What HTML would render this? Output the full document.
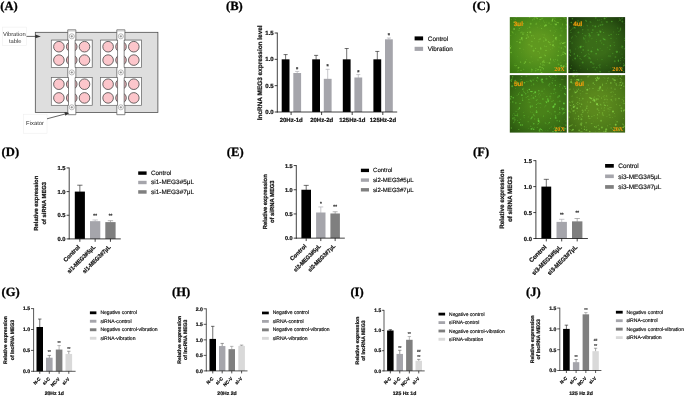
<!DOCTYPE html>
<html lang="en"><head><meta charset="utf-8"><title>Figure</title>
<style>
html,body{margin:0;padding:0;background:#fff;}
body{width:685px;height:397px;overflow:hidden;}
svg{display:block;filter:blur(0.3px);}
text{white-space:pre;}
</style></head><body>
<svg width="685" height="397" viewBox="0 0 685 397" text-rendering="geometricPrecision">
<rect x="0" y="0" width="685" height="397" fill="#ffffff"/>
<text x="0.3" y="10.2" font-family="'Liberation Serif', 'Times New Roman', serif" font-size="12.6" font-weight="bold" text-anchor="start" fill="#000" stroke="#000" stroke-width="0.28">(A)</text>
<rect x="35.30" y="32.30" width="122.60" height="80.10" fill="#dedede" stroke="#444" stroke-width="0.75"/>
<rect x="51.80" y="39.60" width="40.90" height="27.40" fill="#b5b5b5"/>
<rect x="51.30" y="40.10" width="40.90" height="27.40" fill="#ffffff" stroke="#666" stroke-width="0.7"/>
<circle cx="58.90" cy="46.70" r="5.3" fill="#fcc6cb" stroke="#444" stroke-width="0.8"/>
<circle cx="58.90" cy="60.10" r="5.3" fill="#fcc6cb" stroke="#444" stroke-width="0.8"/>
<circle cx="71.75" cy="46.70" r="5.3" fill="#e9b3b9" stroke="#444" stroke-width="0.8"/>
<circle cx="71.75" cy="60.10" r="5.3" fill="#e9b3b9" stroke="#444" stroke-width="0.8"/>
<circle cx="84.50" cy="46.70" r="5.3" fill="#fcc6cb" stroke="#444" stroke-width="0.8"/>
<circle cx="84.50" cy="60.10" r="5.3" fill="#fcc6cb" stroke="#444" stroke-width="0.8"/>
<rect x="101.00" y="39.60" width="41.00" height="27.40" fill="#b5b5b5"/>
<rect x="100.50" y="40.10" width="41.00" height="27.40" fill="#ffffff" stroke="#666" stroke-width="0.7"/>
<circle cx="108.10" cy="46.70" r="5.3" fill="#fcc6cb" stroke="#444" stroke-width="0.8"/>
<circle cx="108.10" cy="60.10" r="5.3" fill="#fcc6cb" stroke="#444" stroke-width="0.8"/>
<circle cx="121.00" cy="46.70" r="5.3" fill="#e9b3b9" stroke="#444" stroke-width="0.8"/>
<circle cx="121.00" cy="60.10" r="5.3" fill="#e9b3b9" stroke="#444" stroke-width="0.8"/>
<circle cx="133.80" cy="46.70" r="5.3" fill="#fcc6cb" stroke="#444" stroke-width="0.8"/>
<circle cx="133.80" cy="60.10" r="5.3" fill="#fcc6cb" stroke="#444" stroke-width="0.8"/>
<rect x="51.80" y="77.10" width="40.90" height="27.70" fill="#b5b5b5"/>
<rect x="51.30" y="77.60" width="40.90" height="27.70" fill="#ffffff" stroke="#666" stroke-width="0.7"/>
<circle cx="58.90" cy="84.20" r="5.3" fill="#fcc6cb" stroke="#444" stroke-width="0.8"/>
<circle cx="58.90" cy="97.90" r="5.3" fill="#fcc6cb" stroke="#444" stroke-width="0.8"/>
<circle cx="71.75" cy="84.20" r="5.3" fill="#e9b3b9" stroke="#444" stroke-width="0.8"/>
<circle cx="71.75" cy="97.90" r="5.3" fill="#e9b3b9" stroke="#444" stroke-width="0.8"/>
<circle cx="84.50" cy="84.20" r="5.3" fill="#fcc6cb" stroke="#444" stroke-width="0.8"/>
<circle cx="84.50" cy="97.90" r="5.3" fill="#fcc6cb" stroke="#444" stroke-width="0.8"/>
<rect x="101.00" y="77.10" width="41.00" height="27.70" fill="#b5b5b5"/>
<rect x="100.50" y="77.60" width="41.00" height="27.70" fill="#ffffff" stroke="#666" stroke-width="0.7"/>
<circle cx="108.10" cy="84.20" r="5.3" fill="#fcc6cb" stroke="#444" stroke-width="0.8"/>
<circle cx="108.10" cy="97.90" r="5.3" fill="#fcc6cb" stroke="#444" stroke-width="0.8"/>
<circle cx="121.00" cy="84.20" r="5.3" fill="#e9b3b9" stroke="#444" stroke-width="0.8"/>
<circle cx="121.00" cy="97.90" r="5.3" fill="#e9b3b9" stroke="#444" stroke-width="0.8"/>
<circle cx="133.80" cy="84.20" r="5.3" fill="#fcc6cb" stroke="#444" stroke-width="0.8"/>
<circle cx="133.80" cy="97.90" r="5.3" fill="#fcc6cb" stroke="#444" stroke-width="0.8"/>
<polygon points="67.75,29.80 75.85,29.80 75.85,40.10 75.10,40.10 75.10,67.50 75.85,67.50 75.85,77.60 75.10,77.60 75.10,105.30 75.85,105.30 75.85,114.70 67.75,114.70 67.75,105.30 68.50,105.30 68.50,77.60 67.75,77.60 67.75,67.50 68.50,67.50 68.50,40.10 67.75,40.10" fill="#ffffff" stroke="#555" stroke-width="0.7" stroke-linejoin="miter"/>
<line x1="67.75" y1="31.00" x2="75.85" y2="31.00" stroke="#999" stroke-width="0.5"/>
<circle cx="71.80" cy="36.3" r="2.55" fill="#fff" stroke="#777" stroke-width="0.5"/>
<line x1="70.50" y1="36.30" x2="73.10" y2="36.30" stroke="#555" stroke-width="0.5"/>
<line x1="71.80" y1="35.00" x2="71.80" y2="37.60" stroke="#555" stroke-width="0.5"/>
<circle cx="71.80" cy="72.4" r="2.55" fill="#fff" stroke="#777" stroke-width="0.5"/>
<line x1="70.50" y1="72.40" x2="73.10" y2="72.40" stroke="#555" stroke-width="0.5"/>
<line x1="71.80" y1="71.10" x2="71.80" y2="73.70" stroke="#555" stroke-width="0.5"/>
<circle cx="71.80" cy="107.3" r="2.55" fill="#fff" stroke="#777" stroke-width="0.5"/>
<line x1="70.50" y1="107.30" x2="73.10" y2="107.30" stroke="#555" stroke-width="0.5"/>
<line x1="71.80" y1="106.00" x2="71.80" y2="108.60" stroke="#555" stroke-width="0.5"/>
<polygon points="116.80,29.80 124.90,29.80 124.90,40.10 124.15,40.10 124.15,67.50 124.90,67.50 124.90,77.60 124.15,77.60 124.15,105.30 124.90,105.30 124.90,114.70 116.80,114.70 116.80,105.30 117.55,105.30 117.55,77.60 116.80,77.60 116.80,67.50 117.55,67.50 117.55,40.10 116.80,40.10" fill="#ffffff" stroke="#555" stroke-width="0.7" stroke-linejoin="miter"/>
<line x1="116.80" y1="31.00" x2="124.90" y2="31.00" stroke="#999" stroke-width="0.5"/>
<circle cx="120.85" cy="36.3" r="2.55" fill="#fff" stroke="#777" stroke-width="0.5"/>
<line x1="119.55" y1="36.30" x2="122.15" y2="36.30" stroke="#555" stroke-width="0.5"/>
<line x1="120.85" y1="35.00" x2="120.85" y2="37.60" stroke="#555" stroke-width="0.5"/>
<circle cx="120.85" cy="72.4" r="2.55" fill="#fff" stroke="#777" stroke-width="0.5"/>
<line x1="119.55" y1="72.40" x2="122.15" y2="72.40" stroke="#555" stroke-width="0.5"/>
<line x1="120.85" y1="71.10" x2="120.85" y2="73.70" stroke="#555" stroke-width="0.5"/>
<circle cx="120.85" cy="107.3" r="2.55" fill="#fff" stroke="#777" stroke-width="0.5"/>
<line x1="119.55" y1="107.30" x2="122.15" y2="107.30" stroke="#555" stroke-width="0.5"/>
<line x1="120.85" y1="106.00" x2="120.85" y2="108.60" stroke="#555" stroke-width="0.5"/>
<rect x="2.30" y="27.10" width="24.20" height="18.40" fill="#ffffff" stroke="#ececec" stroke-width="0.5"/>
<text x="14.3" y="35.7" font-family="'Liberation Sans', Arial, sans-serif" font-size="5.8" font-weight="normal" text-anchor="middle" fill="#333">Vibration</text>
<text x="15.2" y="42.5" font-family="'Liberation Sans', Arial, sans-serif" font-size="5.8" font-weight="normal" text-anchor="middle" fill="#333">table</text>
<line x1="26.50" y1="36.40" x2="36.50" y2="36.40" stroke="#333" stroke-width="0.75"/>
<polygon points="40.8,36.4 35.3,34.4 35.3,38.3" fill="#333"/>
<rect x="23.70" y="114.20" width="23.30" height="19.00" fill="#ffffff" stroke="#ececec" stroke-width="0.5"/>
<text x="26.1" y="125.4" font-family="'Liberation Sans', Arial, sans-serif" font-size="5.85" font-weight="normal" text-anchor="start" fill="#333">Fixator</text>
<line x1="47.00" y1="118.80" x2="65.50" y2="113.90" stroke="#333" stroke-width="0.75"/>
<polygon points="69.3,112.9 64.4,112.0 65.4,115.8" fill="#333"/>
<text x="226.0" y="10.2" font-family="'Liberation Serif', 'Times New Roman', serif" font-size="12.6" font-weight="bold" text-anchor="start" fill="#000" stroke="#000" stroke-width="0.28">(B)</text>
<line x1="285.60" y1="54.59" x2="285.60" y2="59.83" stroke="#111" stroke-width="0.6"/>
<line x1="283.57" y1="54.59" x2="287.63" y2="54.59" stroke="#111" stroke-width="0.6"/>
<rect x="281.70" y="59.33" width="7.80" height="52.67" fill="#000000"/>
<line x1="297.20" y1="71.44" x2="297.20" y2="73.52" stroke="#a5a5ab" stroke-width="0.6"/>
<line x1="295.17" y1="71.44" x2="299.23" y2="71.44" stroke="#a5a5ab" stroke-width="0.6"/>
<rect x="293.30" y="73.02" width="7.80" height="38.98" fill="#a5a5ab"/>
<line x1="316.10" y1="55.38" x2="316.10" y2="59.83" stroke="#111" stroke-width="0.6"/>
<line x1="314.07" y1="55.38" x2="318.13" y2="55.38" stroke="#111" stroke-width="0.6"/>
<rect x="312.20" y="59.33" width="7.80" height="52.67" fill="#000000"/>
<line x1="327.70" y1="69.34" x2="327.70" y2="79.32" stroke="#a5a5ab" stroke-width="0.6"/>
<line x1="325.67" y1="69.34" x2="329.73" y2="69.34" stroke="#a5a5ab" stroke-width="0.6"/>
<rect x="323.80" y="78.82" width="7.80" height="33.18" fill="#a5a5ab"/>
<line x1="346.70" y1="48.53" x2="346.70" y2="59.83" stroke="#111" stroke-width="0.6"/>
<line x1="344.67" y1="48.53" x2="348.73" y2="48.53" stroke="#111" stroke-width="0.6"/>
<rect x="342.80" y="59.33" width="7.80" height="52.67" fill="#000000"/>
<line x1="358.30" y1="74.60" x2="358.30" y2="78.00" stroke="#a5a5ab" stroke-width="0.6"/>
<line x1="356.27" y1="74.60" x2="360.33" y2="74.60" stroke="#a5a5ab" stroke-width="0.6"/>
<rect x="354.40" y="77.50" width="7.80" height="34.50" fill="#a5a5ab"/>
<line x1="377.30" y1="51.43" x2="377.30" y2="59.83" stroke="#111" stroke-width="0.6"/>
<line x1="375.27" y1="51.43" x2="379.33" y2="51.43" stroke="#111" stroke-width="0.6"/>
<rect x="373.40" y="59.33" width="7.80" height="52.67" fill="#000000"/>
<line x1="388.90" y1="38.00" x2="388.90" y2="39.82" stroke="#a5a5ab" stroke-width="0.6"/>
<line x1="386.87" y1="38.00" x2="390.93" y2="38.00" stroke="#a5a5ab" stroke-width="0.6"/>
<rect x="385.00" y="39.32" width="7.80" height="72.68" fill="#a5a5ab"/>
<line x1="277.30" y1="32.60" x2="277.30" y2="112.40" stroke="#111" stroke-width="0.8"/>
<line x1="276.90" y1="112.00" x2="397.20" y2="112.00" stroke="#111" stroke-width="0.8"/>
<line x1="274.70" y1="33.00" x2="277.30" y2="33.00" stroke="#111" stroke-width="0.8"/>
<text x="273.7" y="35.16" font-family="'Liberation Sans', Arial, sans-serif" font-size="6.0" font-weight="bold" text-anchor="end" fill="#111" stroke="#111" stroke-width="0.22">1.5</text>
<line x1="274.70" y1="59.33" x2="277.30" y2="59.33" stroke="#111" stroke-width="0.8"/>
<text x="273.7" y="61.49" font-family="'Liberation Sans', Arial, sans-serif" font-size="6.0" font-weight="bold" text-anchor="end" fill="#111" stroke="#111" stroke-width="0.22">1.0</text>
<line x1="274.70" y1="85.66" x2="277.30" y2="85.66" stroke="#111" stroke-width="0.8"/>
<text x="273.7" y="87.82" font-family="'Liberation Sans', Arial, sans-serif" font-size="6.0" font-weight="bold" text-anchor="end" fill="#111" stroke="#111" stroke-width="0.22">0.5</text>
<line x1="274.70" y1="112.00" x2="277.30" y2="112.00" stroke="#111" stroke-width="0.8"/>
<text x="273.7" y="114.16" font-family="'Liberation Sans', Arial, sans-serif" font-size="6.0" font-weight="bold" text-anchor="end" fill="#111" stroke="#111" stroke-width="0.22">0.0</text>
<line x1="291.10" y1="112.00" x2="291.10" y2="115.00" stroke="#111" stroke-width="0.8"/>
<line x1="321.60" y1="112.00" x2="321.60" y2="115.00" stroke="#111" stroke-width="0.8"/>
<line x1="352.20" y1="112.00" x2="352.20" y2="115.00" stroke="#111" stroke-width="0.8"/>
<line x1="382.80" y1="112.00" x2="382.80" y2="115.00" stroke="#111" stroke-width="0.8"/>
<text x="291.2" y="121.7" font-family="'Liberation Sans', Arial, sans-serif" font-size="6.0" font-weight="bold" text-anchor="middle" fill="#111" stroke="#111" stroke-width="0.22">20Hz-1d</text>
<text x="321.7" y="121.7" font-family="'Liberation Sans', Arial, sans-serif" font-size="6.0" font-weight="bold" text-anchor="middle" fill="#111" stroke="#111" stroke-width="0.22">20Hz-2d</text>
<text x="352.3" y="121.7" font-family="'Liberation Sans', Arial, sans-serif" font-size="6.0" font-weight="bold" text-anchor="middle" fill="#111" stroke="#111" stroke-width="0.22">125Hz-1d</text>
<text x="382.9" y="121.7" font-family="'Liberation Sans', Arial, sans-serif" font-size="6.0" font-weight="bold" text-anchor="middle" fill="#111" stroke="#111" stroke-width="0.22">125Hz-2d</text>
<text x="297.2" y="70.74" font-family="'Liberation Sans', Arial, sans-serif" font-size="5.6" font-weight="bold" text-anchor="middle" fill="#333" stroke="#333" stroke-width="0.22">*</text>
<text x="327.7" y="68.44" font-family="'Liberation Sans', Arial, sans-serif" font-size="5.6" font-weight="bold" text-anchor="middle" fill="#333" stroke="#333" stroke-width="0.22">*</text>
<text x="358.3" y="73.74" font-family="'Liberation Sans', Arial, sans-serif" font-size="5.6" font-weight="bold" text-anchor="middle" fill="#333" stroke="#333" stroke-width="0.22">*</text>
<text x="388.9" y="36.64" font-family="'Liberation Sans', Arial, sans-serif" font-size="5.6" font-weight="bold" text-anchor="middle" fill="#333" stroke="#333" stroke-width="0.22">*</text>
<text x="261.6" y="72.8" font-family="'Liberation Sans', Arial, sans-serif" font-size="6.45" font-weight="bold" text-anchor="middle" fill="#111" transform="rotate(-90 261.6 72.8)" stroke="#111" stroke-width="0.22">lncRNA MEG3 expression level</text>
<rect x="414.60" y="36.40" width="8.50" height="4.00" fill="#000000"/>
<text x="427.8" y="40.6" font-family="'Liberation Sans', Arial, sans-serif" font-size="6.35" font-weight="normal" text-anchor="start" fill="#111" stroke="#111" stroke-width="0.16">Control</text>
<rect x="414.60" y="46.80" width="8.50" height="4.10" fill="#a5a5ab"/>
<text x="427.8" y="51.2" font-family="'Liberation Sans', Arial, sans-serif" font-size="6.35" font-weight="normal" text-anchor="start" fill="#111" stroke="#111" stroke-width="0.16">Vibration</text>
<text x="472.6" y="10.2" font-family="'Liberation Serif', 'Times New Roman', serif" font-size="12.6" font-weight="bold" text-anchor="start" fill="#000" stroke="#000" stroke-width="0.28">(C)</text>
<defs>
<radialGradient id="gc0" cx="52%" cy="50%" r="74%"><stop offset="0" stop-color="#5f981f"/><stop offset="0.25" stop-color="#5f981f"/><stop offset="0.62" stop-color="#4b8a1a"/><stop offset="1" stop-color="#36700f"/></radialGradient>
<clipPath id="cc0"><rect x="509.8" y="17.1" width="57.00" height="56.00"/></clipPath>
<radialGradient id="gc1" cx="52%" cy="50%" r="72%"><stop offset="0" stop-color="#3a6c18"/><stop offset="0.25" stop-color="#3a6c18"/><stop offset="0.62" stop-color="#2a5412"/><stop offset="1" stop-color="#152d08"/></radialGradient>
<clipPath id="cc1"><rect x="568.3" y="17.1" width="56.80" height="56.00"/></clipPath>
<radialGradient id="gc2" cx="52%" cy="50%" r="74%"><stop offset="0" stop-color="#498119"/><stop offset="0.25" stop-color="#498119"/><stop offset="0.62" stop-color="#3a7015"/><stop offset="1" stop-color="#264e0d"/></radialGradient>
<clipPath id="cc2"><rect x="509.8" y="75.1" width="57.00" height="57.50"/></clipPath>
<radialGradient id="gc3" cx="52%" cy="50%" r="74%"><stop offset="0" stop-color="#5b881d"/><stop offset="0.25" stop-color="#5b881d"/><stop offset="0.62" stop-color="#4d7a19"/><stop offset="1" stop-color="#385e11"/></radialGradient>
<clipPath id="cc3"><rect x="568.3" y="75.1" width="56.80" height="57.50"/></clipPath>
<filter id="blur1" x="-5%" y="-5%" width="110%" height="110%"><feGaussianBlur stdDeviation="0.45"/></filter>
</defs>
<rect x="509.80" y="17.10" width="57.00" height="56.00" fill="url(#gc0)"/>
<g clip-path="url(#cc0)" filter="url(#blur1)" fill="#86d440">
<circle cx="535.6" cy="48.4" r="0.6" opacity="0.50"/>
<circle cx="520.6" cy="62.1" r="0.6" opacity="0.60"/>
<circle cx="515.2" cy="34.1" r="0.35" opacity="0.55"/>
<circle cx="546.0" cy="50.4" r="0.6" opacity="0.78"/>
<ellipse cx="544.9" cy="25.9" rx="0.43" ry="0.24" opacity="0.71" transform="rotate(61 544.9 25.9)"/>
<circle cx="544.0" cy="60.7" r="0.5" opacity="0.49"/>
<ellipse cx="539.4" cy="53.0" rx="1.03" ry="0.42" opacity="0.25" transform="rotate(104 539.4 53.0)"/>
<circle cx="566.7" cy="72.9" r="0.35" opacity="0.64"/>
<ellipse cx="522.9" cy="33.3" rx="0.45" ry="0.24" opacity="0.56" transform="rotate(74 522.9 33.3)"/>
<ellipse cx="531.8" cy="70.8" rx="1.83" ry="0.66" opacity="0.25" transform="rotate(120 531.8 70.8)"/>
<circle cx="531.2" cy="56.8" r="0.6" opacity="0.29"/>
<ellipse cx="554.2" cy="32.2" rx="0.53" ry="0.24" opacity="0.42" transform="rotate(30 554.2 32.2)"/>
<circle cx="517.5" cy="56.7" r="0.35" opacity="0.28"/>
<circle cx="519.9" cy="48.4" r="0.6" opacity="0.53"/>
<circle cx="553.7" cy="40.6" r="0.6" opacity="0.31"/>
<circle cx="521.9" cy="32.2" r="0.75" opacity="0.42"/>
<ellipse cx="521.8" cy="39.2" rx="1.49" ry="0.52" opacity="0.60" transform="rotate(54 521.8 39.2)"/>
<circle cx="535.0" cy="17.6" r="0.75" opacity="0.43"/>
<ellipse cx="514.0" cy="22.1" rx="1.12" ry="0.52" opacity="0.60" transform="rotate(159 514.0 22.1)"/>
<ellipse cx="535.6" cy="70.8" rx="0.91" ry="0.42" opacity="0.71" transform="rotate(160 535.6 70.8)"/>
<ellipse cx="518.6" cy="68.0" rx="1.34" ry="0.52" opacity="0.39" transform="rotate(141 518.6 68.0)"/>
<circle cx="521.0" cy="70.3" r="0.6" opacity="0.58"/>
<circle cx="515.7" cy="19.3" r="0.5" opacity="0.38"/>
<circle cx="524.4" cy="63.2" r="0.75" opacity="0.52"/>
<circle cx="562.8" cy="71.8" r="0.45" opacity="0.38"/>
<circle cx="558.4" cy="51.5" r="0.5" opacity="0.37"/>
<ellipse cx="552.5" cy="21.0" rx="0.80" ry="0.42" opacity="0.50" transform="rotate(94 552.5 21.0)"/>
<circle cx="540.1" cy="71.6" r="0.35" opacity="0.45"/>
<circle cx="565.7" cy="53.9" r="0.95" opacity="0.54"/>
<circle cx="543.4" cy="68.8" r="0.6" opacity="0.75"/>
<ellipse cx="564.7" cy="18.3" rx="1.38" ry="0.66" opacity="0.29" transform="rotate(34 564.7 18.3)"/>
<ellipse cx="566.8" cy="21.3" rx="1.46" ry="0.52" opacity="0.45" transform="rotate(33 566.8 21.3)"/>
<circle cx="555.0" cy="68.3" r="0.5" opacity="0.30"/>
<circle cx="514.2" cy="65.1" r="0.35" opacity="0.72"/>
<ellipse cx="545.4" cy="38.5" rx="0.95" ry="0.52" opacity="0.26" transform="rotate(29 545.4 38.5)"/>
<circle cx="566.4" cy="66.4" r="0.95" opacity="0.43"/>
<ellipse cx="549.4" cy="42.7" rx="1.08" ry="0.42" opacity="0.71" transform="rotate(7 549.4 42.7)"/>
<circle cx="527.5" cy="22.0" r="0.35" opacity="0.38"/>
<ellipse cx="538.1" cy="51.5" rx="0.86" ry="0.42" opacity="0.39" transform="rotate(173 538.1 51.5)"/>
<circle cx="544.7" cy="46.1" r="0.5" opacity="0.61"/>
<circle cx="560.6" cy="35.4" r="0.95" opacity="0.39"/>
<circle cx="555.6" cy="59.4" r="0.45" opacity="0.73"/>
<circle cx="543.0" cy="34.8" r="0.45" opacity="0.32"/>
<circle cx="560.9" cy="19.4" r="0.35" opacity="0.77"/>
<circle cx="519.4" cy="42.3" r="0.5" opacity="0.76"/>
<circle cx="531.6" cy="46.2" r="0.95" opacity="0.42"/>
<circle cx="565.8" cy="42.4" r="0.35" opacity="0.71"/>
<circle cx="544.4" cy="55.1" r="0.5" opacity="0.56"/>
<ellipse cx="554.9" cy="18.2" rx="0.82" ry="0.32" opacity="0.47" transform="rotate(68 554.9 18.2)"/>
<ellipse cx="523.3" cy="25.0" rx="0.45" ry="0.24" opacity="0.79" transform="rotate(137 523.3 25.0)"/>
<ellipse cx="547.1" cy="62.3" rx="0.55" ry="0.24" opacity="0.63" transform="rotate(45 547.1 62.3)"/>
<ellipse cx="550.5" cy="59.4" rx="1.06" ry="0.52" opacity="0.64" transform="rotate(88 550.5 59.4)"/>
<circle cx="540.6" cy="70.1" r="0.75" opacity="0.59"/>
<circle cx="532.2" cy="61.4" r="0.45" opacity="0.30"/>
<circle cx="551.0" cy="24.4" r="0.6" opacity="0.36"/>
<circle cx="510.2" cy="47.9" r="0.95" opacity="0.73"/>
<ellipse cx="563.6" cy="43.1" rx="1.80" ry="0.66" opacity="0.79" transform="rotate(164 563.6 43.1)"/>
<circle cx="562.5" cy="24.0" r="0.45" opacity="0.74"/>
<circle cx="565.5" cy="47.2" r="0.5" opacity="0.39"/>
<circle cx="510.7" cy="45.4" r="0.35" opacity="0.49"/>
<circle cx="553.6" cy="44.4" r="0.35" opacity="0.37"/>
<circle cx="534.2" cy="19.1" r="0.75" opacity="0.43"/>
<circle cx="517.8" cy="25.4" r="0.75" opacity="0.75"/>
<circle cx="548.4" cy="41.7" r="0.6" opacity="0.57"/>
<circle cx="553.0" cy="41.7" r="0.75" opacity="0.41"/>
<circle cx="546.2" cy="46.4" r="0.75" opacity="0.39"/>
<circle cx="564.2" cy="65.8" r="0.75" opacity="0.36"/>
<circle cx="565.0" cy="46.5" r="0.75" opacity="0.52"/>
<circle cx="516.3" cy="17.4" r="0.6" opacity="0.27"/>
<ellipse cx="539.2" cy="39.5" rx="1.00" ry="0.52" opacity="0.32" transform="rotate(137 539.2 39.5)"/>
<circle cx="536.0" cy="68.7" r="0.6" opacity="0.40"/>
<ellipse cx="517.0" cy="41.4" rx="0.92" ry="0.42" opacity="0.54" transform="rotate(7 517.0 41.4)"/>
<ellipse cx="562.5" cy="24.3" rx="0.42" ry="0.24" opacity="0.27" transform="rotate(72 562.5 24.3)"/>
<circle cx="528.2" cy="37.0" r="0.75" opacity="0.52"/>
<ellipse cx="543.0" cy="64.8" rx="1.22" ry="0.52" opacity="0.39" transform="rotate(111 543.0 64.8)"/>
<circle cx="511.1" cy="52.5" r="0.75" opacity="0.59"/>
<circle cx="559.0" cy="47.0" r="0.45" opacity="0.54"/>
<circle cx="544.7" cy="65.1" r="0.45" opacity="0.75"/>
<circle cx="529.6" cy="27.2" r="0.75" opacity="0.42"/>
<ellipse cx="522.2" cy="73.0" rx="0.62" ry="0.24" opacity="0.32" transform="rotate(66 522.2 73.0)"/>
<circle cx="531.9" cy="41.4" r="0.6" opacity="0.55"/>
<circle cx="521.2" cy="52.3" r="0.35" opacity="0.30"/>
<circle cx="530.2" cy="63.1" r="0.5" opacity="0.31"/>
<circle cx="553.0" cy="45.3" r="0.95" opacity="0.71"/>
<circle cx="537.3" cy="18.5" r="0.75" opacity="0.59"/>
<circle cx="537.2" cy="27.7" r="0.35" opacity="0.36"/>
<ellipse cx="566.2" cy="69.0" rx="0.61" ry="0.24" opacity="0.57" transform="rotate(19 566.2 69.0)"/>
<circle cx="553.4" cy="35.4" r="0.6" opacity="0.48"/>
<circle cx="521.8" cy="38.0" r="0.95" opacity="0.64"/>
<circle cx="520.1" cy="42.5" r="0.95" opacity="0.45"/>
<ellipse cx="544.3" cy="22.4" rx="0.66" ry="0.24" opacity="0.43" transform="rotate(161 544.3 22.4)"/>
<circle cx="563.4" cy="49.0" r="0.45" opacity="0.53"/>
<circle cx="555.7" cy="31.6" r="0.35" opacity="0.66"/>
<circle cx="556.2" cy="39.8" r="0.5" opacity="0.73"/>
<ellipse cx="553.5" cy="60.0" rx="1.10" ry="0.42" opacity="0.36" transform="rotate(77 553.5 60.0)"/>
<circle cx="536.5" cy="17.7" r="0.5" opacity="0.79"/>
<ellipse cx="512.6" cy="32.4" rx="1.45" ry="0.66" opacity="0.41" transform="rotate(46 512.6 32.4)"/>
<circle cx="540.2" cy="38.9" r="0.6" opacity="0.60"/>
<ellipse cx="553.2" cy="72.0" rx="0.49" ry="0.24" opacity="0.31" transform="rotate(113 553.2 72.0)"/>
<ellipse cx="532.7" cy="19.9" rx="0.63" ry="0.32" opacity="0.61" transform="rotate(70 532.7 19.9)"/>
<circle cx="561.4" cy="47.9" r="0.75" opacity="0.48"/>
<ellipse cx="558.0" cy="22.7" rx="1.01" ry="0.42" opacity="0.70" transform="rotate(11 558.0 22.7)"/>
<ellipse cx="531.8" cy="69.7" rx="0.96" ry="0.42" opacity="0.51" transform="rotate(156 531.8 69.7)"/>
<circle cx="543.8" cy="41.2" r="0.6" opacity="0.48"/>
<circle cx="543.9" cy="37.6" r="0.5" opacity="0.52"/>
<ellipse cx="562.8" cy="54.3" rx="1.33" ry="0.66" opacity="0.41" transform="rotate(10 562.8 54.3)"/>
<circle cx="545.9" cy="40.0" r="0.95" opacity="0.46"/>
<ellipse cx="552.5" cy="19.9" rx="1.83" ry="0.66" opacity="0.77" transform="rotate(109 552.5 19.9)"/>
<ellipse cx="550.8" cy="31.2" rx="0.83" ry="0.32" opacity="0.27" transform="rotate(119 550.8 31.2)"/>
<ellipse cx="518.0" cy="70.9" rx="0.76" ry="0.32" opacity="0.58" transform="rotate(116 518.0 70.9)"/>
<ellipse cx="516.5" cy="65.3" rx="0.78" ry="0.35" opacity="0.54" transform="rotate(170 516.5 65.3)"/>
<circle cx="533.6" cy="50.8" r="0.95" opacity="0.57"/>
<circle cx="554.1" cy="46.8" r="0.45" opacity="0.77"/>
<circle cx="523.4" cy="23.5" r="0.5" opacity="0.68"/>
<circle cx="530.3" cy="32.3" r="0.95" opacity="0.65"/>
<ellipse cx="520.6" cy="32.7" rx="0.89" ry="0.32" opacity="0.35" transform="rotate(50 520.6 32.7)"/>
<circle cx="559.9" cy="19.3" r="0.35" opacity="0.26"/>
<ellipse cx="511.3" cy="19.2" rx="0.57" ry="0.32" opacity="0.55" transform="rotate(173 511.3 19.2)"/>
<circle cx="519.0" cy="30.2" r="0.5" opacity="0.52"/>
<ellipse cx="529.1" cy="44.8" rx="0.58" ry="0.32" opacity="0.71" transform="rotate(159 529.1 44.8)"/>
<circle cx="557.6" cy="60.2" r="0.6" opacity="0.48"/>
<circle cx="556.0" cy="37.8" r="0.95" opacity="0.71"/>
<circle cx="526.4" cy="59.6" r="0.45" opacity="0.49"/>
<circle cx="515.3" cy="66.1" r="0.35" opacity="0.55"/>
<circle cx="542.2" cy="62.8" r="0.6" opacity="0.41"/>
<circle cx="514.1" cy="29.0" r="0.95" opacity="0.58"/>
<ellipse cx="538.0" cy="59.9" rx="0.74" ry="0.35" opacity="0.41" transform="rotate(83 538.0 59.9)"/>
<circle cx="530.7" cy="23.7" r="0.95" opacity="0.49"/>
<circle cx="561.2" cy="55.6" r="0.5" opacity="0.49"/>
<circle cx="527.2" cy="34.9" r="0.6" opacity="0.78"/>
<circle cx="539.2" cy="21.8" r="0.5" opacity="0.26"/>
<circle cx="543.1" cy="61.7" r="0.95" opacity="0.56"/>
<ellipse cx="540.6" cy="63.9" rx="1.17" ry="0.52" opacity="0.35" transform="rotate(72 540.6 63.9)"/>
<circle cx="556.1" cy="29.5" r="0.35" opacity="0.55"/>
<circle cx="564.9" cy="53.6" r="0.6" opacity="0.29"/>
<ellipse cx="554.7" cy="21.8" rx="0.51" ry="0.24" opacity="0.40" transform="rotate(6 554.7 21.8)"/>
<circle cx="545.9" cy="25.2" r="0.95" opacity="0.70"/>
<circle cx="550.4" cy="44.5" r="0.75" opacity="0.44"/>
<circle cx="529.8" cy="62.3" r="0.5" opacity="0.62"/>
<ellipse cx="540.4" cy="57.5" rx="1.72" ry="0.66" opacity="0.59" transform="rotate(170 540.4 57.5)"/>
<circle cx="529.7" cy="17.3" r="0.6" opacity="0.71"/>
<ellipse cx="564.4" cy="53.0" rx="0.97" ry="0.52" opacity="0.45" transform="rotate(107 564.4 53.0)"/>
<circle cx="562.0" cy="30.9" r="0.45" opacity="0.80"/>
<circle cx="519.4" cy="28.5" r="0.6" opacity="0.54"/>
<circle cx="560.3" cy="43.5" r="0.95" opacity="0.31"/>
<ellipse cx="554.0" cy="27.1" rx="0.55" ry="0.24" opacity="0.66" transform="rotate(9 554.0 27.1)"/>
<ellipse cx="527.6" cy="28.2" rx="0.89" ry="0.35" opacity="0.37" transform="rotate(152 527.6 28.2)"/>
<circle cx="538.8" cy="41.8" r="0.5" opacity="0.47"/>
<circle cx="563.2" cy="52.2" r="0.75" opacity="0.51"/>
<circle cx="560.4" cy="68.3" r="0.5" opacity="0.61"/>
<circle cx="515.1" cy="65.4" r="0.6" opacity="0.28"/>
<circle cx="555.5" cy="38.7" r="0.75" opacity="0.69"/>
<circle cx="554.7" cy="20.3" r="0.45" opacity="0.74"/>
<circle cx="561.4" cy="42.3" r="0.45" opacity="0.64"/>
<circle cx="518.8" cy="25.9" r="0.5" opacity="0.33"/>
<circle cx="556.0" cy="24.4" r="0.95" opacity="0.80"/>
<circle cx="540.3" cy="25.5" r="0.45" opacity="0.25"/>
<circle cx="558.0" cy="63.1" r="0.35" opacity="0.44"/>
<circle cx="539.9" cy="66.9" r="0.95" opacity="0.51"/>
<ellipse cx="543.2" cy="65.1" rx="0.68" ry="0.35" opacity="0.26" transform="rotate(174 543.2 65.1)"/>
<circle cx="515.0" cy="63.4" r="0.45" opacity="0.27"/>
<circle cx="538.0" cy="70.1" r="0.5" opacity="0.42"/>
<circle cx="541.5" cy="72.9" r="0.95" opacity="0.64"/>
<circle cx="549.0" cy="23.0" r="0.6" opacity="0.62"/>
<circle cx="554.5" cy="23.9" r="0.6" opacity="0.26"/>
<circle cx="550.3" cy="30.4" r="0.75" opacity="0.31"/>
<circle cx="558.6" cy="64.4" r="0.95" opacity="0.36"/>
<circle cx="526.4" cy="38.2" r="0.75" opacity="0.66"/>
<ellipse cx="552.8" cy="48.2" rx="0.62" ry="0.24" opacity="0.39" transform="rotate(84 552.8 48.2)"/>
<circle cx="527.5" cy="32.4" r="0.6" opacity="0.65"/>
<ellipse cx="556.9" cy="22.3" rx="0.77" ry="0.32" opacity="0.59" transform="rotate(45 556.9 22.3)"/>
<ellipse cx="520.1" cy="39.6" rx="0.83" ry="0.42" opacity="0.58" transform="rotate(40 520.1 39.6)"/>
<circle cx="566.1" cy="41.4" r="0.35" opacity="0.44"/>
<circle cx="562.6" cy="24.9" r="0.45" opacity="0.67"/>
<circle cx="531.8" cy="35.7" r="0.6" opacity="0.59"/>
<circle cx="544.7" cy="34.9" r="0.45" opacity="0.61"/>
<circle cx="510.9" cy="35.6" r="0.5" opacity="0.42"/>
<circle cx="541.6" cy="28.6" r="0.5" opacity="0.68"/>
<circle cx="544.7" cy="26.0" r="0.75" opacity="0.75"/>
<ellipse cx="529.9" cy="45.1" rx="0.88" ry="0.32" opacity="0.57" transform="rotate(50 529.9 45.1)"/>
<ellipse cx="542.1" cy="18.6" rx="1.33" ry="0.66" opacity="0.36" transform="rotate(147 542.1 18.6)"/>
<circle cx="533.6" cy="35.8" r="0.35" opacity="0.76"/>
<circle cx="536.2" cy="24.0" r="0.95" opacity="0.32"/>
<ellipse cx="540.8" cy="48.5" rx="1.35" ry="0.52" opacity="0.75" transform="rotate(85 540.8 48.5)"/>
<circle cx="544.1" cy="24.0" r="0.35" opacity="0.41"/>
<circle cx="523.5" cy="49.2" r="0.45" opacity="0.35"/>
<circle cx="514.1" cy="18.9" r="0.45" opacity="0.68"/>
<circle cx="566.7" cy="24.8" r="0.95" opacity="0.72"/>
<circle cx="544.9" cy="53.0" r="0.35" opacity="0.34"/>
<ellipse cx="511.7" cy="46.7" rx="0.57" ry="0.24" opacity="0.56" transform="rotate(67 511.7 46.7)"/>
<ellipse cx="523.7" cy="69.3" rx="0.61" ry="0.24" opacity="0.60" transform="rotate(37 523.7 69.3)"/>
<circle cx="532.8" cy="45.0" r="0.35" opacity="0.51"/>
<circle cx="545.4" cy="55.7" r="0.6" opacity="0.66"/>
<circle cx="566.5" cy="64.0" r="0.95" opacity="0.47"/>
<circle cx="542.1" cy="67.8" r="0.75" opacity="0.43"/>
<circle cx="533.8" cy="18.5" r="0.35" opacity="0.41"/>
<circle cx="534.5" cy="38.2" r="0.5" opacity="0.66"/>
<ellipse cx="543.6" cy="21.0" rx="0.66" ry="0.24" opacity="0.71" transform="rotate(13 543.6 21.0)"/>
<circle cx="536.9" cy="23.0" r="0.45" opacity="0.55"/>
<circle cx="563.4" cy="66.4" r="0.95" opacity="0.78"/>
<circle cx="559.2" cy="40.7" r="0.45" opacity="0.37"/>
<ellipse cx="542.1" cy="67.7" rx="0.67" ry="0.24" opacity="0.54" transform="rotate(147 542.1 67.7)"/>
<ellipse cx="564.0" cy="17.1" rx="0.60" ry="0.32" opacity="0.65" transform="rotate(112 564.0 17.1)"/>
<circle cx="560.8" cy="62.8" r="0.6" opacity="0.33"/>
<circle cx="523.0" cy="34.2" r="0.6" opacity="0.74"/>
<ellipse cx="538.2" cy="69.4" rx="1.13" ry="0.42" opacity="0.73" transform="rotate(177 538.2 69.4)"/>
<ellipse cx="560.9" cy="28.0" rx="0.85" ry="0.35" opacity="0.74" transform="rotate(178 560.9 28.0)"/>
<circle cx="566.5" cy="28.4" r="0.95" opacity="0.38"/>
<circle cx="565.4" cy="53.5" r="0.5" opacity="0.65"/>
<circle cx="561.1" cy="65.8" r="0.95" opacity="0.73"/>
<ellipse cx="564.3" cy="60.7" rx="0.87" ry="0.42" opacity="0.29" transform="rotate(176 564.3 60.7)"/>
<circle cx="521.0" cy="27.2" r="0.45" opacity="0.53"/>
<circle cx="525.4" cy="62.1" r="0.75" opacity="0.74"/>
<circle cx="522.9" cy="34.0" r="0.45" opacity="0.62"/>
<circle cx="546.3" cy="22.1" r="0.35" opacity="0.49"/>
<circle cx="540.1" cy="19.6" r="0.75" opacity="0.57"/>
<circle cx="533.9" cy="48.9" r="0.45" opacity="0.41"/>
<circle cx="523.8" cy="32.7" r="0.75" opacity="0.27"/>
<circle cx="518.4" cy="67.4" r="0.75" opacity="0.50"/>
<ellipse cx="531.7" cy="69.1" rx="1.09" ry="0.42" opacity="0.28" transform="rotate(92 531.7 69.1)"/>
<circle cx="528.1" cy="44.2" r="0.35" opacity="0.53"/>
<circle cx="558.0" cy="55.4" r="0.75" opacity="0.66"/>
<ellipse cx="543.7" cy="60.3" rx="0.54" ry="0.24" opacity="0.58" transform="rotate(65 543.7 60.3)"/>
<circle cx="554.6" cy="61.4" r="0.45" opacity="0.39"/>
<circle cx="558.4" cy="50.9" r="0.5" opacity="0.27"/>
<circle cx="550.5" cy="49.2" r="0.45" opacity="0.43"/>
<circle cx="544.5" cy="62.2" r="0.75" opacity="0.49"/>
<circle cx="555.3" cy="21.2" r="0.45" opacity="0.56"/>
<circle cx="554.9" cy="30.4" r="0.45" opacity="0.28"/>
<circle cx="549.5" cy="63.0" r="0.95" opacity="0.54"/>
</g>
<text x="513.8" y="26.3" font-family="'Liberation Sans', Arial, sans-serif" font-size="6.3" font-weight="bold" text-anchor="start" fill="#e99a0c" stroke="#e99a0c" stroke-width="0.22">3ul</text>
<text x="564.8" y="71.0" font-family="'Liberation Serif', 'Times New Roman', serif" font-size="6.2" font-weight="bold" text-anchor="end" fill="#ee9c0e">20X</text>
<rect x="568.30" y="17.10" width="56.80" height="56.00" fill="url(#gc1)"/>
<g clip-path="url(#cc1)" filter="url(#blur1)" fill="#56b432">
<circle cx="601.7" cy="22.1" r="0.75" opacity="0.34"/>
<ellipse cx="577.4" cy="55.8" rx="1.15" ry="0.52" opacity="0.68" transform="rotate(93 577.4 55.8)"/>
<circle cx="608.0" cy="56.5" r="0.35" opacity="0.32"/>
<circle cx="602.4" cy="24.6" r="0.95" opacity="0.50"/>
<circle cx="570.5" cy="30.6" r="0.75" opacity="0.33"/>
<circle cx="585.2" cy="40.9" r="0.35" opacity="0.78"/>
<circle cx="609.0" cy="71.8" r="0.75" opacity="0.38"/>
<ellipse cx="599.6" cy="30.6" rx="0.87" ry="0.42" opacity="0.30" transform="rotate(156 599.6 30.6)"/>
<ellipse cx="580.7" cy="26.1" rx="1.11" ry="0.52" opacity="0.61" transform="rotate(177 580.7 26.1)"/>
<circle cx="620.1" cy="66.6" r="0.45" opacity="0.50"/>
<circle cx="616.2" cy="38.4" r="0.35" opacity="0.37"/>
<circle cx="578.7" cy="47.9" r="0.45" opacity="0.51"/>
<circle cx="602.0" cy="59.6" r="0.6" opacity="0.50"/>
<circle cx="606.9" cy="65.4" r="0.45" opacity="0.55"/>
<circle cx="571.0" cy="32.6" r="0.5" opacity="0.59"/>
<circle cx="610.4" cy="45.8" r="0.75" opacity="0.76"/>
<circle cx="583.6" cy="37.3" r="0.45" opacity="0.65"/>
<circle cx="576.1" cy="30.6" r="0.35" opacity="0.26"/>
<circle cx="590.1" cy="21.8" r="0.6" opacity="0.43"/>
<circle cx="597.8" cy="20.2" r="0.6" opacity="0.58"/>
<circle cx="579.0" cy="45.9" r="0.45" opacity="0.27"/>
<circle cx="592.4" cy="47.6" r="0.45" opacity="0.53"/>
<ellipse cx="586.1" cy="42.4" rx="0.85" ry="0.42" opacity="0.33" transform="rotate(115 586.1 42.4)"/>
<circle cx="591.3" cy="38.7" r="0.5" opacity="0.37"/>
<circle cx="587.9" cy="29.2" r="0.35" opacity="0.72"/>
<circle cx="595.7" cy="17.7" r="0.95" opacity="0.41"/>
<ellipse cx="620.5" cy="29.2" rx="1.73" ry="0.66" opacity="0.44" transform="rotate(95 620.5 29.2)"/>
<ellipse cx="581.6" cy="52.5" rx="0.56" ry="0.24" opacity="0.69" transform="rotate(125 581.6 52.5)"/>
<ellipse cx="590.1" cy="35.5" rx="1.16" ry="0.42" opacity="0.64" transform="rotate(51 590.1 35.5)"/>
<circle cx="595.3" cy="26.4" r="0.95" opacity="0.64"/>
<circle cx="610.5" cy="67.9" r="0.45" opacity="0.51"/>
<ellipse cx="616.7" cy="34.4" rx="0.67" ry="0.24" opacity="0.75" transform="rotate(103 616.7 34.4)"/>
<circle cx="583.7" cy="38.2" r="0.75" opacity="0.41"/>
<circle cx="618.6" cy="21.1" r="0.35" opacity="0.44"/>
<circle cx="600.4" cy="31.8" r="0.95" opacity="0.74"/>
<circle cx="590.1" cy="36.2" r="0.5" opacity="0.27"/>
<circle cx="580.6" cy="21.3" r="0.35" opacity="0.59"/>
<circle cx="591.9" cy="32.6" r="0.6" opacity="0.73"/>
<circle cx="620.0" cy="19.2" r="0.45" opacity="0.63"/>
<ellipse cx="596.4" cy="43.6" rx="0.48" ry="0.24" opacity="0.33" transform="rotate(174 596.4 43.6)"/>
<ellipse cx="580.8" cy="46.3" rx="1.23" ry="0.52" opacity="0.79" transform="rotate(166 580.8 46.3)"/>
<circle cx="611.8" cy="21.5" r="0.75" opacity="0.74"/>
<circle cx="613.5" cy="31.9" r="0.35" opacity="0.74"/>
<ellipse cx="609.0" cy="56.0" rx="1.26" ry="0.66" opacity="0.34" transform="rotate(85 609.0 56.0)"/>
<circle cx="603.6" cy="44.6" r="0.75" opacity="0.41"/>
<ellipse cx="589.1" cy="54.5" rx="0.88" ry="0.42" opacity="0.38" transform="rotate(45 589.1 54.5)"/>
<circle cx="620.4" cy="58.4" r="0.35" opacity="0.79"/>
<circle cx="618.6" cy="34.5" r="0.6" opacity="0.53"/>
<ellipse cx="570.6" cy="51.9" rx="0.84" ry="0.42" opacity="0.73" transform="rotate(129 570.6 51.9)"/>
<circle cx="610.3" cy="56.0" r="0.5" opacity="0.64"/>
<ellipse cx="609.0" cy="35.4" rx="0.83" ry="0.35" opacity="0.72" transform="rotate(33 609.0 35.4)"/>
<circle cx="600.5" cy="40.7" r="0.95" opacity="0.32"/>
<circle cx="583.6" cy="26.1" r="0.45" opacity="0.46"/>
<circle cx="581.4" cy="27.4" r="0.35" opacity="0.51"/>
<circle cx="613.2" cy="69.0" r="0.5" opacity="0.63"/>
<ellipse cx="604.2" cy="39.3" rx="1.68" ry="0.66" opacity="0.79" transform="rotate(30 604.2 39.3)"/>
<circle cx="617.8" cy="28.0" r="0.5" opacity="0.65"/>
<circle cx="575.1" cy="35.6" r="0.35" opacity="0.71"/>
<circle cx="578.0" cy="20.9" r="0.6" opacity="0.69"/>
<ellipse cx="584.4" cy="39.0" rx="1.25" ry="0.52" opacity="0.47" transform="rotate(172 584.4 39.0)"/>
<circle cx="607.7" cy="47.7" r="0.45" opacity="0.49"/>
<ellipse cx="599.9" cy="67.3" rx="1.14" ry="0.42" opacity="0.49" transform="rotate(69 599.9 67.3)"/>
<circle cx="600.4" cy="25.1" r="0.95" opacity="0.47"/>
<ellipse cx="572.9" cy="28.4" rx="0.94" ry="0.52" opacity="0.39" transform="rotate(79 572.9 28.4)"/>
<circle cx="606.4" cy="17.3" r="0.5" opacity="0.52"/>
<circle cx="579.8" cy="65.7" r="0.6" opacity="0.27"/>
<circle cx="600.1" cy="48.3" r="0.45" opacity="0.55"/>
<circle cx="603.7" cy="32.6" r="0.5" opacity="0.73"/>
<circle cx="593.5" cy="63.8" r="0.95" opacity="0.28"/>
<circle cx="622.0" cy="47.3" r="0.95" opacity="0.29"/>
<circle cx="611.1" cy="34.5" r="0.75" opacity="0.51"/>
<ellipse cx="571.9" cy="37.5" rx="1.45" ry="0.52" opacity="0.40" transform="rotate(126 571.9 37.5)"/>
<circle cx="591.0" cy="62.1" r="0.95" opacity="0.67"/>
<circle cx="574.0" cy="70.3" r="0.6" opacity="0.71"/>
<ellipse cx="619.4" cy="52.0" rx="0.53" ry="0.24" opacity="0.57" transform="rotate(94 619.4 52.0)"/>
<circle cx="597.1" cy="32.6" r="0.5" opacity="0.59"/>
<ellipse cx="586.0" cy="20.8" rx="1.39" ry="0.66" opacity="0.43" transform="rotate(46 586.0 20.8)"/>
<ellipse cx="580.3" cy="58.7" rx="1.11" ry="0.52" opacity="0.42" transform="rotate(39 580.3 58.7)"/>
<circle cx="576.4" cy="36.7" r="0.6" opacity="0.26"/>
<circle cx="571.3" cy="22.4" r="0.75" opacity="0.71"/>
<ellipse cx="569.5" cy="26.9" rx="0.70" ry="0.24" opacity="0.66" transform="rotate(110 569.5 26.9)"/>
<circle cx="595.2" cy="69.7" r="0.6" opacity="0.47"/>
<circle cx="578.4" cy="32.4" r="0.95" opacity="0.46"/>
<ellipse cx="618.4" cy="60.7" rx="1.28" ry="0.52" opacity="0.79" transform="rotate(96 618.4 60.7)"/>
<circle cx="620.0" cy="20.2" r="0.75" opacity="0.59"/>
<circle cx="616.9" cy="52.3" r="0.75" opacity="0.78"/>
<circle cx="575.2" cy="58.5" r="0.95" opacity="0.50"/>
<circle cx="592.1" cy="38.6" r="0.45" opacity="0.46"/>
<circle cx="570.7" cy="68.6" r="0.75" opacity="0.60"/>
<circle cx="602.0" cy="50.4" r="0.5" opacity="0.33"/>
<circle cx="624.7" cy="58.4" r="0.5" opacity="0.35"/>
<circle cx="599.6" cy="20.0" r="0.45" opacity="0.66"/>
<ellipse cx="574.6" cy="27.6" rx="1.23" ry="0.66" opacity="0.68" transform="rotate(26 574.6 27.6)"/>
<ellipse cx="597.4" cy="72.7" rx="0.52" ry="0.24" opacity="0.35" transform="rotate(132 597.4 72.7)"/>
<circle cx="614.1" cy="42.5" r="0.75" opacity="0.26"/>
<circle cx="596.1" cy="71.0" r="0.45" opacity="0.29"/>
<circle cx="613.0" cy="44.6" r="0.45" opacity="0.29"/>
<ellipse cx="571.5" cy="65.8" rx="0.52" ry="0.24" opacity="0.69" transform="rotate(25 571.5 65.8)"/>
<ellipse cx="587.3" cy="69.1" rx="0.61" ry="0.32" opacity="0.71" transform="rotate(99 587.3 69.1)"/>
<ellipse cx="570.1" cy="55.3" rx="1.19" ry="0.42" opacity="0.75" transform="rotate(52 570.1 55.3)"/>
<circle cx="598.5" cy="34.8" r="0.95" opacity="0.78"/>
<circle cx="624.8" cy="38.3" r="0.5" opacity="0.63"/>
<ellipse cx="622.0" cy="54.0" rx="0.59" ry="0.32" opacity="0.63" transform="rotate(177 622.0 54.0)"/>
<circle cx="601.3" cy="19.4" r="0.5" opacity="0.31"/>
<ellipse cx="602.9" cy="37.1" rx="0.61" ry="0.32" opacity="0.25" transform="rotate(92 602.9 37.1)"/>
<circle cx="617.7" cy="60.2" r="0.45" opacity="0.33"/>
<ellipse cx="592.4" cy="63.0" rx="0.78" ry="0.42" opacity="0.40" transform="rotate(24 592.4 63.0)"/>
<ellipse cx="588.0" cy="56.5" rx="0.58" ry="0.32" opacity="0.52" transform="rotate(73 588.0 56.5)"/>
<circle cx="622.4" cy="21.5" r="0.95" opacity="0.50"/>
<circle cx="590.3" cy="58.7" r="0.75" opacity="0.37"/>
<circle cx="589.1" cy="35.8" r="0.75" opacity="0.49"/>
<ellipse cx="584.9" cy="56.0" rx="1.42" ry="0.66" opacity="0.59" transform="rotate(151 584.9 56.0)"/>
<ellipse cx="619.2" cy="31.2" rx="1.14" ry="0.42" opacity="0.40" transform="rotate(151 619.2 31.2)"/>
<ellipse cx="574.2" cy="53.9" rx="0.89" ry="0.42" opacity="0.74" transform="rotate(95 574.2 53.9)"/>
<circle cx="570.0" cy="50.2" r="0.95" opacity="0.44"/>
<ellipse cx="622.2" cy="18.4" rx="1.27" ry="0.66" opacity="0.34" transform="rotate(129 622.2 18.4)"/>
<ellipse cx="586.3" cy="54.7" rx="0.91" ry="0.52" opacity="0.28" transform="rotate(101 586.3 54.7)"/>
<circle cx="592.9" cy="30.0" r="0.75" opacity="0.64"/>
<circle cx="572.1" cy="43.0" r="0.6" opacity="0.68"/>
<ellipse cx="597.7" cy="49.8" rx="0.91" ry="0.42" opacity="0.45" transform="rotate(21 597.7 49.8)"/>
<circle cx="568.5" cy="70.8" r="0.95" opacity="0.59"/>
<circle cx="582.7" cy="62.5" r="0.95" opacity="0.51"/>
<circle cx="592.9" cy="25.8" r="0.5" opacity="0.72"/>
<circle cx="619.2" cy="18.5" r="0.5" opacity="0.48"/>
<circle cx="623.6" cy="60.6" r="0.35" opacity="0.42"/>
<circle cx="575.4" cy="48.9" r="0.45" opacity="0.61"/>
<circle cx="585.8" cy="36.9" r="0.45" opacity="0.39"/>
<ellipse cx="571.4" cy="29.3" rx="0.79" ry="0.42" opacity="0.34" transform="rotate(26 571.4 29.3)"/>
<circle cx="614.3" cy="45.3" r="0.45" opacity="0.78"/>
<circle cx="591.4" cy="51.4" r="0.95" opacity="0.78"/>
<circle cx="568.9" cy="25.7" r="0.35" opacity="0.65"/>
<circle cx="577.2" cy="46.8" r="0.35" opacity="0.47"/>
<circle cx="620.1" cy="47.5" r="0.35" opacity="0.46"/>
<circle cx="580.5" cy="47.2" r="0.95" opacity="0.76"/>
<circle cx="596.1" cy="53.7" r="0.75" opacity="0.77"/>
<circle cx="596.8" cy="67.7" r="0.6" opacity="0.59"/>
<circle cx="602.4" cy="29.4" r="0.35" opacity="0.49"/>
<circle cx="588.7" cy="41.2" r="0.6" opacity="0.31"/>
<circle cx="598.5" cy="26.2" r="0.6" opacity="0.55"/>
<circle cx="580.9" cy="22.7" r="0.5" opacity="0.27"/>
<ellipse cx="622.3" cy="46.2" rx="1.14" ry="0.52" opacity="0.52" transform="rotate(26 622.3 46.2)"/>
<circle cx="568.7" cy="50.3" r="0.45" opacity="0.45"/>
<ellipse cx="589.3" cy="34.0" rx="1.01" ry="0.52" opacity="0.67" transform="rotate(30 589.3 34.0)"/>
<ellipse cx="597.6" cy="59.3" rx="0.59" ry="0.24" opacity="0.72" transform="rotate(108 597.6 59.3)"/>
<circle cx="605.1" cy="38.0" r="0.35" opacity="0.41"/>
<circle cx="573.2" cy="72.2" r="0.5" opacity="0.43"/>
<circle cx="614.8" cy="61.2" r="0.95" opacity="0.41"/>
<circle cx="596.2" cy="39.2" r="0.35" opacity="0.55"/>
<circle cx="604.6" cy="18.4" r="0.95" opacity="0.66"/>
<circle cx="568.6" cy="58.4" r="0.6" opacity="0.43"/>
<circle cx="620.2" cy="63.1" r="0.45" opacity="0.68"/>
<circle cx="611.0" cy="38.3" r="0.6" opacity="0.62"/>
<ellipse cx="593.6" cy="67.3" rx="1.77" ry="0.66" opacity="0.29" transform="rotate(170 593.6 67.3)"/>
<circle cx="615.5" cy="57.0" r="0.95" opacity="0.32"/>
<circle cx="622.5" cy="48.5" r="0.45" opacity="0.30"/>
<circle cx="576.3" cy="70.2" r="0.45" opacity="0.73"/>
<circle cx="570.1" cy="41.3" r="0.6" opacity="0.36"/>
<circle cx="596.4" cy="41.6" r="0.6" opacity="0.53"/>
<ellipse cx="599.5" cy="65.0" rx="1.39" ry="0.52" opacity="0.43" transform="rotate(166 599.5 65.0)"/>
<circle cx="588.2" cy="50.2" r="0.75" opacity="0.63"/>
<circle cx="601.7" cy="43.0" r="0.75" opacity="0.33"/>
<circle cx="590.8" cy="22.2" r="0.6" opacity="0.38"/>
<circle cx="609.8" cy="49.3" r="0.5" opacity="0.76"/>
<circle cx="582.8" cy="30.7" r="0.45" opacity="0.49"/>
<circle cx="600.1" cy="71.7" r="0.75" opacity="0.50"/>
<circle cx="581.4" cy="59.3" r="0.35" opacity="0.62"/>
<circle cx="576.8" cy="72.7" r="0.5" opacity="0.56"/>
<ellipse cx="587.2" cy="25.6" rx="0.91" ry="0.35" opacity="0.69" transform="rotate(55 587.2 25.6)"/>
<ellipse cx="624.3" cy="65.3" rx="1.72" ry="0.66" opacity="0.59" transform="rotate(149 624.3 65.3)"/>
<circle cx="577.9" cy="72.9" r="0.5" opacity="0.63"/>
<circle cx="622.3" cy="57.3" r="0.5" opacity="0.58"/>
<circle cx="624.1" cy="23.3" r="0.5" opacity="0.26"/>
<circle cx="582.7" cy="33.5" r="0.5" opacity="0.56"/>
<ellipse cx="572.6" cy="18.7" rx="0.76" ry="0.35" opacity="0.77" transform="rotate(139 572.6 18.7)"/>
<ellipse cx="616.8" cy="51.2" rx="1.35" ry="0.52" opacity="0.69" transform="rotate(179 616.8 51.2)"/>
<circle cx="620.5" cy="60.5" r="0.5" opacity="0.42"/>
<circle cx="612.6" cy="53.6" r="0.75" opacity="0.38"/>
<circle cx="589.3" cy="57.9" r="0.95" opacity="0.53"/>
<circle cx="588.1" cy="30.1" r="0.75" opacity="0.31"/>
<circle cx="605.6" cy="21.1" r="0.35" opacity="0.31"/>
<ellipse cx="575.1" cy="72.5" rx="0.98" ry="0.35" opacity="0.44" transform="rotate(170 575.1 72.5)"/>
<circle cx="572.2" cy="18.8" r="0.75" opacity="0.33"/>
<circle cx="623.6" cy="71.7" r="0.75" opacity="0.55"/>
<circle cx="606.9" cy="21.9" r="0.95" opacity="0.44"/>
<ellipse cx="579.5" cy="56.6" rx="1.05" ry="0.42" opacity="0.33" transform="rotate(7 579.5 56.6)"/>
<circle cx="600.0" cy="71.6" r="0.75" opacity="0.30"/>
<circle cx="582.8" cy="29.4" r="0.5" opacity="0.77"/>
<ellipse cx="622.3" cy="68.9" rx="0.96" ry="0.42" opacity="0.76" transform="rotate(151 622.3 68.9)"/>
<ellipse cx="624.9" cy="49.1" rx="1.36" ry="0.52" opacity="0.42" transform="rotate(40 624.9 49.1)"/>
<circle cx="622.8" cy="18.9" r="0.35" opacity="0.41"/>
<circle cx="624.4" cy="40.3" r="0.45" opacity="0.71"/>
<ellipse cx="597.8" cy="49.6" rx="1.19" ry="0.66" opacity="0.69" transform="rotate(55 597.8 49.6)"/>
<ellipse cx="623.7" cy="63.8" rx="0.91" ry="0.42" opacity="0.44" transform="rotate(61 623.7 63.8)"/>
<circle cx="583.2" cy="49.9" r="0.75" opacity="0.65"/>
<ellipse cx="588.3" cy="53.6" rx="0.84" ry="0.42" opacity="0.35" transform="rotate(122 588.3 53.6)"/>
<circle cx="580.8" cy="68.6" r="0.45" opacity="0.38"/>
<ellipse cx="583.1" cy="46.4" rx="0.72" ry="0.35" opacity="0.57" transform="rotate(16 583.1 46.4)"/>
<ellipse cx="585.4" cy="35.6" rx="1.33" ry="0.66" opacity="0.36" transform="rotate(23 585.4 35.6)"/>
<ellipse cx="572.8" cy="59.9" rx="0.74" ry="0.32" opacity="0.49" transform="rotate(35 572.8 59.9)"/>
<circle cx="589.4" cy="37.1" r="0.35" opacity="0.79"/>
</g>
<text x="573.2" y="26.0" font-family="'Liberation Sans', Arial, sans-serif" font-size="6.3" font-weight="bold" text-anchor="start" fill="#e99a0c" stroke="#e99a0c" stroke-width="0.22">4ul</text>
<text x="623.0" y="71.0" font-family="'Liberation Serif', 'Times New Roman', serif" font-size="6.2" font-weight="bold" text-anchor="end" fill="#ee9c0e">20X</text>
<rect x="509.80" y="75.10" width="57.00" height="57.50" fill="url(#gc2)"/>
<g clip-path="url(#cc2)" filter="url(#blur1)" fill="#6edc40">
<circle cx="517.5" cy="120.5" r="0.45" opacity="0.44"/>
<ellipse cx="531.4" cy="91.6" rx="1.48" ry="0.52" opacity="0.77" transform="rotate(3 531.4 91.6)"/>
<ellipse cx="512.8" cy="77.0" rx="0.44" ry="0.24" opacity="0.48" transform="rotate(40 512.8 77.0)"/>
<circle cx="559.9" cy="130.3" r="0.5" opacity="0.44"/>
<ellipse cx="517.9" cy="116.2" rx="0.61" ry="0.24" opacity="0.36" transform="rotate(171 517.9 116.2)"/>
<ellipse cx="535.7" cy="96.5" rx="0.66" ry="0.24" opacity="0.76" transform="rotate(47 535.7 96.5)"/>
<ellipse cx="551.2" cy="114.0" rx="0.45" ry="0.24" opacity="0.42" transform="rotate(134 551.2 114.0)"/>
<circle cx="539.6" cy="122.0" r="0.6" opacity="0.67"/>
<circle cx="563.8" cy="79.8" r="0.45" opacity="0.26"/>
<ellipse cx="565.4" cy="128.8" rx="1.39" ry="0.66" opacity="0.53" transform="rotate(145 565.4 128.8)"/>
<circle cx="515.8" cy="102.9" r="0.75" opacity="0.50"/>
<circle cx="558.0" cy="101.8" r="0.45" opacity="0.33"/>
<ellipse cx="548.5" cy="100.3" rx="1.00" ry="0.52" opacity="0.47" transform="rotate(44 548.5 100.3)"/>
<circle cx="532.7" cy="122.4" r="0.35" opacity="0.26"/>
<ellipse cx="564.6" cy="110.3" rx="0.42" ry="0.24" opacity="0.51" transform="rotate(77 564.6 110.3)"/>
<circle cx="565.2" cy="94.5" r="0.75" opacity="0.56"/>
<circle cx="524.1" cy="117.8" r="0.45" opacity="0.45"/>
<circle cx="542.9" cy="99.1" r="0.75" opacity="0.57"/>
<circle cx="563.9" cy="103.4" r="0.95" opacity="0.76"/>
<circle cx="560.1" cy="84.5" r="0.75" opacity="0.56"/>
<circle cx="553.4" cy="128.8" r="0.5" opacity="0.38"/>
<circle cx="518.8" cy="129.6" r="0.5" opacity="0.60"/>
<circle cx="510.0" cy="102.7" r="0.35" opacity="0.52"/>
<circle cx="539.1" cy="96.9" r="0.35" opacity="0.61"/>
<ellipse cx="538.2" cy="123.8" rx="1.20" ry="0.52" opacity="0.50" transform="rotate(123 538.2 123.8)"/>
<circle cx="513.3" cy="83.3" r="0.35" opacity="0.40"/>
<circle cx="514.6" cy="121.1" r="0.45" opacity="0.57"/>
<circle cx="512.2" cy="86.3" r="0.95" opacity="0.53"/>
<ellipse cx="541.4" cy="129.5" rx="0.87" ry="0.42" opacity="0.72" transform="rotate(170 541.4 129.5)"/>
<circle cx="538.5" cy="94.8" r="0.45" opacity="0.61"/>
<circle cx="535.2" cy="92.3" r="0.95" opacity="0.75"/>
<ellipse cx="555.3" cy="116.0" rx="0.93" ry="0.35" opacity="0.69" transform="rotate(77 555.3 116.0)"/>
<circle cx="550.5" cy="77.6" r="0.35" opacity="0.78"/>
<circle cx="536.6" cy="112.1" r="0.95" opacity="0.75"/>
<circle cx="546.5" cy="78.8" r="0.95" opacity="0.34"/>
<circle cx="526.2" cy="97.5" r="0.5" opacity="0.35"/>
<circle cx="553.0" cy="131.7" r="0.75" opacity="0.61"/>
<circle cx="547.9" cy="100.2" r="0.6" opacity="0.67"/>
<circle cx="559.6" cy="107.8" r="0.6" opacity="0.60"/>
<circle cx="531.7" cy="95.4" r="0.35" opacity="0.74"/>
<circle cx="565.6" cy="88.4" r="0.75" opacity="0.68"/>
<ellipse cx="539.2" cy="93.3" rx="0.71" ry="0.35" opacity="0.63" transform="rotate(26 539.2 93.3)"/>
<circle cx="528.6" cy="128.4" r="0.35" opacity="0.41"/>
<circle cx="545.1" cy="130.4" r="0.35" opacity="0.43"/>
<circle cx="539.6" cy="103.2" r="0.35" opacity="0.30"/>
<ellipse cx="512.7" cy="118.6" rx="1.25" ry="0.52" opacity="0.39" transform="rotate(61 512.7 118.6)"/>
<circle cx="534.5" cy="98.0" r="0.5" opacity="0.28"/>
<ellipse cx="539.8" cy="129.7" rx="1.84" ry="0.66" opacity="0.54" transform="rotate(121 539.8 129.7)"/>
<circle cx="562.0" cy="79.6" r="0.6" opacity="0.49"/>
<circle cx="553.3" cy="107.0" r="0.95" opacity="0.76"/>
<circle cx="563.8" cy="108.8" r="0.6" opacity="0.80"/>
<ellipse cx="520.6" cy="119.1" rx="0.69" ry="0.24" opacity="0.59" transform="rotate(149 520.6 119.1)"/>
<ellipse cx="551.2" cy="93.5" rx="1.19" ry="0.66" opacity="0.27" transform="rotate(27 551.2 93.5)"/>
<ellipse cx="564.1" cy="86.2" rx="0.63" ry="0.35" opacity="0.74" transform="rotate(68 564.1 86.2)"/>
<circle cx="536.3" cy="110.5" r="0.45" opacity="0.80"/>
<circle cx="554.5" cy="89.2" r="0.95" opacity="0.38"/>
<ellipse cx="533.1" cy="80.1" rx="1.18" ry="0.52" opacity="0.32" transform="rotate(4 533.1 80.1)"/>
<ellipse cx="531.6" cy="117.8" rx="1.86" ry="0.66" opacity="0.51" transform="rotate(124 531.6 117.8)"/>
<circle cx="566.0" cy="125.3" r="0.95" opacity="0.32"/>
<circle cx="522.4" cy="124.9" r="0.75" opacity="0.57"/>
<circle cx="559.4" cy="86.1" r="0.35" opacity="0.69"/>
<circle cx="535.4" cy="96.1" r="0.6" opacity="0.36"/>
<ellipse cx="521.8" cy="76.4" rx="0.89" ry="0.35" opacity="0.59" transform="rotate(160 521.8 76.4)"/>
<circle cx="559.9" cy="101.2" r="0.6" opacity="0.62"/>
<ellipse cx="555.4" cy="128.6" rx="1.31" ry="0.66" opacity="0.29" transform="rotate(154 555.4 128.6)"/>
<ellipse cx="563.9" cy="112.8" rx="1.37" ry="0.66" opacity="0.50" transform="rotate(153 563.9 112.8)"/>
<circle cx="553.7" cy="106.1" r="0.95" opacity="0.44"/>
<circle cx="510.8" cy="99.0" r="0.6" opacity="0.39"/>
<circle cx="522.4" cy="98.0" r="0.45" opacity="0.66"/>
<circle cx="538.2" cy="78.1" r="0.45" opacity="0.71"/>
<circle cx="543.4" cy="116.0" r="0.5" opacity="0.66"/>
<ellipse cx="524.1" cy="115.6" rx="0.92" ry="0.52" opacity="0.47" transform="rotate(149 524.1 115.6)"/>
<circle cx="528.3" cy="116.9" r="0.35" opacity="0.40"/>
<circle cx="539.9" cy="103.6" r="0.45" opacity="0.76"/>
<ellipse cx="538.0" cy="103.1" rx="0.74" ry="0.42" opacity="0.62" transform="rotate(118 538.0 103.1)"/>
<circle cx="540.0" cy="132.1" r="0.75" opacity="0.26"/>
<circle cx="534.5" cy="78.1" r="0.35" opacity="0.42"/>
<ellipse cx="549.1" cy="122.7" rx="1.00" ry="0.42" opacity="0.64" transform="rotate(131 549.1 122.7)"/>
<circle cx="511.2" cy="96.6" r="0.95" opacity="0.47"/>
<ellipse cx="545.5" cy="123.1" rx="0.97" ry="0.52" opacity="0.39" transform="rotate(21 545.5 123.1)"/>
<circle cx="546.1" cy="76.6" r="0.45" opacity="0.40"/>
<ellipse cx="549.4" cy="76.7" rx="0.88" ry="0.35" opacity="0.72" transform="rotate(179 549.4 76.7)"/>
<circle cx="528.1" cy="121.8" r="0.45" opacity="0.72"/>
<circle cx="511.4" cy="127.9" r="0.75" opacity="0.40"/>
<ellipse cx="530.3" cy="106.7" rx="1.48" ry="0.52" opacity="0.59" transform="rotate(87 530.3 106.7)"/>
<circle cx="554.7" cy="126.1" r="0.45" opacity="0.71"/>
<circle cx="548.4" cy="85.0" r="0.5" opacity="0.58"/>
<ellipse cx="553.7" cy="93.4" rx="0.72" ry="0.32" opacity="0.51" transform="rotate(171 553.7 93.4)"/>
<circle cx="512.5" cy="115.1" r="0.35" opacity="0.67"/>
<circle cx="563.4" cy="76.5" r="0.5" opacity="0.27"/>
<ellipse cx="565.9" cy="109.6" rx="0.73" ry="0.42" opacity="0.28" transform="rotate(178 565.9 109.6)"/>
<circle cx="544.8" cy="106.9" r="0.35" opacity="0.62"/>
<ellipse cx="528.2" cy="102.0" rx="0.70" ry="0.35" opacity="0.37" transform="rotate(0 528.2 102.0)"/>
<circle cx="524.0" cy="91.9" r="0.5" opacity="0.26"/>
<circle cx="533.5" cy="85.0" r="0.45" opacity="0.31"/>
<circle cx="536.5" cy="104.5" r="0.5" opacity="0.55"/>
<circle cx="559.5" cy="121.1" r="0.6" opacity="0.63"/>
<circle cx="533.4" cy="97.5" r="0.75" opacity="0.40"/>
<circle cx="542.6" cy="132.5" r="0.45" opacity="0.41"/>
<circle cx="532.1" cy="112.4" r="0.35" opacity="0.59"/>
<circle cx="520.7" cy="125.0" r="0.75" opacity="0.63"/>
<ellipse cx="552.2" cy="101.2" rx="1.00" ry="0.42" opacity="0.53" transform="rotate(167 552.2 101.2)"/>
<circle cx="562.1" cy="123.1" r="0.35" opacity="0.31"/>
<circle cx="528.9" cy="99.6" r="0.75" opacity="0.42"/>
<ellipse cx="539.3" cy="132.0" rx="0.66" ry="0.24" opacity="0.54" transform="rotate(99 539.3 132.0)"/>
<circle cx="550.5" cy="118.3" r="0.6" opacity="0.56"/>
<circle cx="534.6" cy="118.9" r="0.75" opacity="0.28"/>
<ellipse cx="513.7" cy="117.9" rx="0.70" ry="0.32" opacity="0.62" transform="rotate(139 513.7 117.9)"/>
<ellipse cx="556.1" cy="132.0" rx="1.69" ry="0.66" opacity="0.59" transform="rotate(54 556.1 132.0)"/>
<circle cx="544.2" cy="89.1" r="0.5" opacity="0.43"/>
<ellipse cx="541.6" cy="80.9" rx="1.75" ry="0.66" opacity="0.35" transform="rotate(57 541.6 80.9)"/>
<circle cx="553.0" cy="78.4" r="0.35" opacity="0.65"/>
<circle cx="554.9" cy="111.6" r="0.95" opacity="0.34"/>
<circle cx="564.4" cy="93.6" r="0.5" opacity="0.75"/>
<ellipse cx="528.0" cy="81.7" rx="0.58" ry="0.24" opacity="0.76" transform="rotate(98 528.0 81.7)"/>
<ellipse cx="559.9" cy="112.8" rx="0.96" ry="0.42" opacity="0.64" transform="rotate(9 559.9 112.8)"/>
<ellipse cx="523.5" cy="91.1" rx="0.61" ry="0.32" opacity="0.62" transform="rotate(60 523.5 91.1)"/>
<circle cx="531.5" cy="128.9" r="0.95" opacity="0.64"/>
<circle cx="548.0" cy="111.2" r="0.6" opacity="0.76"/>
<circle cx="510.2" cy="98.7" r="0.75" opacity="0.46"/>
<circle cx="512.6" cy="76.7" r="0.75" opacity="0.45"/>
<circle cx="518.3" cy="109.2" r="0.75" opacity="0.35"/>
<circle cx="538.3" cy="119.1" r="0.75" opacity="0.59"/>
<ellipse cx="537.4" cy="77.6" rx="1.01" ry="0.52" opacity="0.73" transform="rotate(119 537.4 77.6)"/>
<circle cx="522.6" cy="100.2" r="0.6" opacity="0.66"/>
<ellipse cx="551.0" cy="78.1" rx="0.43" ry="0.24" opacity="0.33" transform="rotate(7 551.0 78.1)"/>
<ellipse cx="523.6" cy="112.3" rx="0.84" ry="0.32" opacity="0.30" transform="rotate(154 523.6 112.3)"/>
<circle cx="566.1" cy="121.3" r="0.75" opacity="0.31"/>
<circle cx="520.7" cy="81.5" r="0.45" opacity="0.29"/>
<circle cx="513.8" cy="122.6" r="0.6" opacity="0.48"/>
<ellipse cx="552.4" cy="80.6" rx="0.59" ry="0.24" opacity="0.51" transform="rotate(49 552.4 80.6)"/>
<circle cx="555.8" cy="128.9" r="0.6" opacity="0.74"/>
<circle cx="532.2" cy="106.3" r="0.95" opacity="0.32"/>
<circle cx="550.2" cy="96.5" r="0.95" opacity="0.31"/>
<circle cx="524.8" cy="92.2" r="0.45" opacity="0.66"/>
<circle cx="549.7" cy="128.3" r="0.45" opacity="0.60"/>
<circle cx="529.3" cy="89.6" r="0.75" opacity="0.79"/>
<circle cx="559.2" cy="95.9" r="0.75" opacity="0.62"/>
<circle cx="560.0" cy="126.2" r="0.5" opacity="0.80"/>
<circle cx="547.2" cy="130.3" r="0.45" opacity="0.39"/>
<circle cx="514.9" cy="119.8" r="0.95" opacity="0.28"/>
<circle cx="525.7" cy="93.7" r="0.75" opacity="0.46"/>
<circle cx="547.9" cy="124.7" r="0.35" opacity="0.39"/>
<circle cx="549.3" cy="86.0" r="0.5" opacity="0.36"/>
<circle cx="529.1" cy="75.2" r="0.35" opacity="0.63"/>
<ellipse cx="546.4" cy="102.1" rx="1.33" ry="0.52" opacity="0.60" transform="rotate(59 546.4 102.1)"/>
<circle cx="555.5" cy="85.3" r="0.6" opacity="0.72"/>
<circle cx="533.8" cy="93.4" r="0.6" opacity="0.38"/>
<circle cx="554.3" cy="106.1" r="0.75" opacity="0.33"/>
<circle cx="564.9" cy="86.8" r="0.75" opacity="0.58"/>
<circle cx="533.8" cy="123.7" r="0.75" opacity="0.65"/>
<circle cx="548.2" cy="130.8" r="0.35" opacity="0.45"/>
<circle cx="517.7" cy="114.0" r="0.5" opacity="0.63"/>
<circle cx="558.6" cy="96.5" r="0.35" opacity="0.28"/>
<ellipse cx="536.9" cy="80.9" rx="1.22" ry="0.52" opacity="0.34" transform="rotate(32 536.9 80.9)"/>
<circle cx="515.1" cy="115.4" r="0.5" opacity="0.76"/>
<circle cx="546.8" cy="96.5" r="0.6" opacity="0.55"/>
<circle cx="559.0" cy="114.0" r="0.5" opacity="0.41"/>
<circle cx="545.9" cy="102.0" r="0.35" opacity="0.49"/>
<ellipse cx="537.3" cy="127.4" rx="0.59" ry="0.32" opacity="0.53" transform="rotate(155 537.3 127.4)"/>
<circle cx="530.6" cy="80.7" r="0.95" opacity="0.41"/>
<circle cx="538.6" cy="121.3" r="0.6" opacity="0.78"/>
<ellipse cx="562.8" cy="114.3" rx="0.88" ry="0.35" opacity="0.29" transform="rotate(136 562.8 114.3)"/>
<circle cx="514.3" cy="114.1" r="0.45" opacity="0.49"/>
<circle cx="515.4" cy="88.3" r="0.45" opacity="0.49"/>
<ellipse cx="530.8" cy="126.2" rx="0.60" ry="0.32" opacity="0.65" transform="rotate(36 530.8 126.2)"/>
<circle cx="517.3" cy="82.9" r="0.95" opacity="0.65"/>
<ellipse cx="518.6" cy="94.2" rx="0.88" ry="0.32" opacity="0.58" transform="rotate(85 518.6 94.2)"/>
<ellipse cx="550.0" cy="99.5" rx="0.60" ry="0.24" opacity="0.31" transform="rotate(120 550.0 99.5)"/>
<circle cx="532.7" cy="128.0" r="0.45" opacity="0.71"/>
<ellipse cx="520.0" cy="103.5" rx="0.86" ry="0.35" opacity="0.75" transform="rotate(18 520.0 103.5)"/>
<circle cx="533.7" cy="84.1" r="0.6" opacity="0.59"/>
<ellipse cx="551.1" cy="127.1" rx="0.66" ry="0.24" opacity="0.70" transform="rotate(131 551.1 127.1)"/>
<circle cx="564.0" cy="124.8" r="0.45" opacity="0.34"/>
<circle cx="559.7" cy="109.3" r="0.5" opacity="0.67"/>
<ellipse cx="533.8" cy="115.1" rx="1.53" ry="0.66" opacity="0.37" transform="rotate(59 533.8 115.1)"/>
<circle cx="519.5" cy="122.6" r="0.6" opacity="0.72"/>
<circle cx="521.1" cy="79.5" r="0.45" opacity="0.79"/>
<circle cx="517.1" cy="115.5" r="0.75" opacity="0.54"/>
<circle cx="557.1" cy="120.7" r="0.6" opacity="0.47"/>
<circle cx="531.1" cy="98.7" r="0.5" opacity="0.32"/>
<circle cx="536.3" cy="107.4" r="0.5" opacity="0.69"/>
<circle cx="557.9" cy="97.3" r="0.95" opacity="0.27"/>
<circle cx="542.2" cy="130.8" r="0.45" opacity="0.76"/>
<circle cx="531.4" cy="81.8" r="0.45" opacity="0.79"/>
<circle cx="545.7" cy="105.8" r="0.6" opacity="0.37"/>
<circle cx="529.9" cy="102.3" r="0.45" opacity="0.69"/>
<circle cx="555.7" cy="92.7" r="0.6" opacity="0.27"/>
<circle cx="555.5" cy="93.9" r="0.45" opacity="0.26"/>
<circle cx="514.5" cy="118.1" r="0.75" opacity="0.26"/>
<circle cx="543.9" cy="93.5" r="0.35" opacity="0.53"/>
<circle cx="524.5" cy="82.8" r="0.75" opacity="0.76"/>
<circle cx="542.5" cy="82.3" r="0.95" opacity="0.30"/>
<circle cx="515.3" cy="80.4" r="0.6" opacity="0.59"/>
<circle cx="527.9" cy="92.1" r="0.5" opacity="0.78"/>
<ellipse cx="546.6" cy="102.3" rx="0.81" ry="0.35" opacity="0.62" transform="rotate(105 546.6 102.3)"/>
<circle cx="555.7" cy="117.9" r="0.95" opacity="0.58"/>
<circle cx="553.4" cy="100.7" r="0.45" opacity="0.66"/>
<circle cx="564.7" cy="119.8" r="0.35" opacity="0.49"/>
<circle cx="542.0" cy="91.2" r="0.75" opacity="0.43"/>
<circle cx="555.6" cy="75.2" r="0.75" opacity="0.46"/>
<circle cx="521.9" cy="95.1" r="0.95" opacity="0.67"/>
<circle cx="547.8" cy="98.9" r="0.75" opacity="0.61"/>
<ellipse cx="512.2" cy="78.5" rx="0.81" ry="0.42" opacity="0.31" transform="rotate(136 512.2 78.5)"/>
<circle cx="540.5" cy="103.3" r="0.45" opacity="0.71"/>
<circle cx="518.9" cy="122.6" r="0.6" opacity="0.35"/>
<circle cx="556.4" cy="129.0" r="0.45" opacity="0.61"/>
<circle cx="534.2" cy="127.5" r="0.35" opacity="0.75"/>
<circle cx="517.1" cy="95.4" r="0.45" opacity="0.41"/>
<circle cx="540.4" cy="95.1" r="0.6" opacity="0.26"/>
<circle cx="555.0" cy="104.2" r="0.95" opacity="0.73"/>
<circle cx="549.6" cy="84.0" r="0.75" opacity="0.46"/>
<ellipse cx="511.7" cy="79.7" rx="0.89" ry="0.42" opacity="0.62" transform="rotate(20 511.7 79.7)"/>
<ellipse cx="527.9" cy="96.3" rx="0.87" ry="0.35" opacity="0.68" transform="rotate(158 527.9 96.3)"/>
<circle cx="531.6" cy="85.2" r="0.35" opacity="0.44"/>
<circle cx="553.5" cy="85.8" r="0.35" opacity="0.36"/>
<circle cx="536.6" cy="80.3" r="0.5" opacity="0.27"/>
<ellipse cx="514.9" cy="80.9" rx="0.72" ry="0.35" opacity="0.76" transform="rotate(87 514.9 80.9)"/>
<circle cx="564.5" cy="129.0" r="0.45" opacity="0.72"/>
<circle cx="562.8" cy="88.0" r="0.6" opacity="0.42"/>
<circle cx="557.6" cy="114.2" r="0.45" opacity="0.30"/>
<circle cx="556.0" cy="77.0" r="0.5" opacity="0.41"/>
<circle cx="533.7" cy="129.3" r="0.75" opacity="0.72"/>
<ellipse cx="533.3" cy="98.3" rx="0.94" ry="0.52" opacity="0.44" transform="rotate(13 533.3 98.3)"/>
<circle cx="527.3" cy="90.6" r="0.5" opacity="0.47"/>
<circle cx="526.4" cy="76.1" r="0.95" opacity="0.27"/>
<circle cx="555.2" cy="80.4" r="0.75" opacity="0.28"/>
<circle cx="526.8" cy="81.7" r="0.35" opacity="0.69"/>
<circle cx="551.6" cy="76.7" r="0.35" opacity="0.49"/>
<ellipse cx="511.2" cy="80.9" rx="1.13" ry="0.52" opacity="0.61" transform="rotate(69 511.2 80.9)"/>
<circle cx="538.5" cy="120.7" r="0.95" opacity="0.74"/>
<circle cx="548.2" cy="101.6" r="0.75" opacity="0.74"/>
<circle cx="539.2" cy="131.9" r="0.35" opacity="0.71"/>
<ellipse cx="540.4" cy="107.2" rx="0.42" ry="0.24" opacity="0.58" transform="rotate(148 540.4 107.2)"/>
<circle cx="519.2" cy="107.5" r="0.45" opacity="0.74"/>
<ellipse cx="516.2" cy="111.5" rx="1.07" ry="0.42" opacity="0.25" transform="rotate(177 516.2 111.5)"/>
<circle cx="554.1" cy="90.9" r="0.35" opacity="0.48"/>
<ellipse cx="562.8" cy="108.9" rx="1.50" ry="0.66" opacity="0.54" transform="rotate(86 562.8 108.9)"/>
<ellipse cx="519.5" cy="108.4" rx="0.93" ry="0.42" opacity="0.76" transform="rotate(69 519.5 108.4)"/>
<circle cx="541.3" cy="103.9" r="0.45" opacity="0.43"/>
<ellipse cx="536.7" cy="100.1" rx="1.34" ry="0.52" opacity="0.42" transform="rotate(135 536.7 100.1)"/>
<circle cx="522.8" cy="89.2" r="0.6" opacity="0.75"/>
<ellipse cx="549.9" cy="112.8" rx="0.64" ry="0.35" opacity="0.42" transform="rotate(53 549.9 112.8)"/>
<ellipse cx="566.2" cy="129.8" rx="0.45" ry="0.24" opacity="0.61" transform="rotate(20 566.2 129.8)"/>
<circle cx="561.0" cy="90.2" r="0.35" opacity="0.49"/>
<circle cx="561.5" cy="108.5" r="0.45" opacity="0.66"/>
<circle cx="538.8" cy="90.7" r="0.75" opacity="0.58"/>
<ellipse cx="552.1" cy="82.9" rx="0.69" ry="0.35" opacity="0.78" transform="rotate(29 552.1 82.9)"/>
<circle cx="564.0" cy="128.3" r="0.6" opacity="0.72"/>
<circle cx="542.1" cy="79.4" r="0.95" opacity="0.76"/>
<circle cx="513.2" cy="97.7" r="0.75" opacity="0.65"/>
<ellipse cx="560.7" cy="132.1" rx="0.87" ry="0.42" opacity="0.72" transform="rotate(111 560.7 132.1)"/>
<circle cx="530.8" cy="111.9" r="0.35" opacity="0.67"/>
<circle cx="550.6" cy="98.4" r="0.45" opacity="0.33"/>
<circle cx="556.7" cy="116.3" r="0.45" opacity="0.25"/>
<circle cx="523.8" cy="88.1" r="0.45" opacity="0.78"/>
<circle cx="543.5" cy="82.8" r="0.35" opacity="0.62"/>
<circle cx="519.7" cy="92.7" r="0.45" opacity="0.44"/>
<circle cx="513.9" cy="113.3" r="0.35" opacity="0.72"/>
<circle cx="512.8" cy="101.9" r="0.6" opacity="0.69"/>
</g>
<text x="513.9" y="86.2" font-family="'Liberation Sans', Arial, sans-serif" font-size="6.3" font-weight="bold" text-anchor="start" fill="#e99a0c" stroke="#e99a0c" stroke-width="0.22">5ul</text>
<text x="564.9" y="130.8" font-family="'Liberation Serif', 'Times New Roman', serif" font-size="6.2" font-weight="bold" text-anchor="end" fill="#ee9c0e">20X</text>
<rect x="568.30" y="75.10" width="56.80" height="57.50" fill="url(#gc3)"/>
<g clip-path="url(#cc3)" filter="url(#blur1)" fill="#8cd848">
<circle cx="614.5" cy="132.0" r="0.6" opacity="0.68"/>
<ellipse cx="602.5" cy="84.9" rx="1.29" ry="0.52" opacity="0.45" transform="rotate(82 602.5 84.9)"/>
<ellipse cx="603.8" cy="131.8" rx="1.26" ry="0.52" opacity="0.36" transform="rotate(53 603.8 131.8)"/>
<circle cx="594.6" cy="126.7" r="0.6" opacity="0.64"/>
<circle cx="620.4" cy="78.6" r="0.75" opacity="0.47"/>
<circle cx="607.5" cy="80.7" r="0.5" opacity="0.66"/>
<circle cx="573.5" cy="104.4" r="0.5" opacity="0.69"/>
<circle cx="623.8" cy="86.3" r="0.75" opacity="0.42"/>
<circle cx="598.0" cy="99.1" r="0.95" opacity="0.41"/>
<circle cx="598.1" cy="90.4" r="0.75" opacity="0.45"/>
<ellipse cx="619.1" cy="129.8" rx="1.38" ry="0.66" opacity="0.80" transform="rotate(96 619.1 129.8)"/>
<circle cx="571.4" cy="82.6" r="0.95" opacity="0.30"/>
<circle cx="598.7" cy="110.6" r="0.75" opacity="0.31"/>
<circle cx="594.6" cy="97.1" r="0.5" opacity="0.53"/>
<ellipse cx="624.0" cy="97.2" rx="0.45" ry="0.24" opacity="0.65" transform="rotate(43 624.0 97.2)"/>
<circle cx="585.5" cy="110.0" r="0.5" opacity="0.72"/>
<circle cx="600.2" cy="87.1" r="0.95" opacity="0.76"/>
<circle cx="615.1" cy="80.3" r="0.75" opacity="0.70"/>
<circle cx="597.4" cy="114.7" r="0.45" opacity="0.64"/>
<circle cx="568.4" cy="120.7" r="0.35" opacity="0.71"/>
<circle cx="610.0" cy="124.4" r="0.6" opacity="0.27"/>
<ellipse cx="570.5" cy="105.3" rx="1.07" ry="0.42" opacity="0.62" transform="rotate(179 570.5 105.3)"/>
<circle cx="591.8" cy="116.5" r="0.75" opacity="0.32"/>
<circle cx="615.7" cy="124.8" r="0.95" opacity="0.74"/>
<ellipse cx="612.1" cy="96.2" rx="0.57" ry="0.32" opacity="0.76" transform="rotate(150 612.1 96.2)"/>
<circle cx="596.0" cy="102.3" r="0.35" opacity="0.64"/>
<ellipse cx="590.4" cy="132.4" rx="0.66" ry="0.35" opacity="0.38" transform="rotate(7 590.4 132.4)"/>
<circle cx="577.4" cy="108.5" r="0.6" opacity="0.45"/>
<circle cx="586.1" cy="122.7" r="0.75" opacity="0.49"/>
<circle cx="588.5" cy="110.7" r="0.75" opacity="0.28"/>
<circle cx="581.5" cy="114.6" r="0.95" opacity="0.36"/>
<circle cx="596.9" cy="103.6" r="0.35" opacity="0.76"/>
<circle cx="571.2" cy="96.3" r="0.45" opacity="0.29"/>
<circle cx="570.7" cy="125.7" r="0.5" opacity="0.73"/>
<circle cx="570.9" cy="129.6" r="0.45" opacity="0.59"/>
<ellipse cx="573.8" cy="105.8" rx="0.63" ry="0.24" opacity="0.32" transform="rotate(112 573.8 105.8)"/>
<circle cx="615.0" cy="89.1" r="0.6" opacity="0.70"/>
<circle cx="599.2" cy="96.7" r="0.45" opacity="0.64"/>
<circle cx="607.7" cy="88.0" r="0.45" opacity="0.32"/>
<circle cx="581.0" cy="131.9" r="0.75" opacity="0.63"/>
<circle cx="571.1" cy="82.0" r="0.95" opacity="0.72"/>
<circle cx="590.4" cy="131.7" r="0.45" opacity="0.28"/>
<ellipse cx="600.2" cy="132.3" rx="0.83" ry="0.32" opacity="0.32" transform="rotate(155 600.2 132.3)"/>
<circle cx="615.6" cy="99.0" r="0.95" opacity="0.26"/>
<circle cx="569.7" cy="89.8" r="0.75" opacity="0.33"/>
<ellipse cx="576.5" cy="103.3" rx="0.67" ry="0.24" opacity="0.60" transform="rotate(169 576.5 103.3)"/>
<circle cx="596.0" cy="127.5" r="0.6" opacity="0.71"/>
<circle cx="580.6" cy="95.0" r="0.35" opacity="0.49"/>
<circle cx="593.2" cy="82.9" r="0.5" opacity="0.49"/>
<circle cx="623.3" cy="118.6" r="0.5" opacity="0.42"/>
<ellipse cx="624.4" cy="126.2" rx="1.24" ry="0.52" opacity="0.53" transform="rotate(16 624.4 126.2)"/>
<ellipse cx="589.1" cy="132.2" rx="0.76" ry="0.42" opacity="0.51" transform="rotate(96 589.1 132.2)"/>
<ellipse cx="594.3" cy="100.5" rx="0.59" ry="0.24" opacity="0.77" transform="rotate(37 594.3 100.5)"/>
<ellipse cx="606.9" cy="116.5" rx="0.69" ry="0.32" opacity="0.32" transform="rotate(35 606.9 116.5)"/>
<circle cx="574.3" cy="79.5" r="0.35" opacity="0.73"/>
<circle cx="577.4" cy="91.0" r="0.75" opacity="0.57"/>
<ellipse cx="604.2" cy="77.9" rx="0.81" ry="0.32" opacity="0.44" transform="rotate(34 604.2 77.9)"/>
<circle cx="601.9" cy="90.0" r="0.35" opacity="0.37"/>
<ellipse cx="616.3" cy="104.5" rx="0.73" ry="0.42" opacity="0.36" transform="rotate(102 616.3 104.5)"/>
<ellipse cx="577.0" cy="76.0" rx="1.02" ry="0.52" opacity="0.44" transform="rotate(135 577.0 76.0)"/>
<ellipse cx="584.2" cy="110.0" rx="0.90" ry="0.35" opacity="0.39" transform="rotate(173 584.2 110.0)"/>
<circle cx="580.3" cy="106.7" r="0.45" opacity="0.77"/>
<circle cx="582.9" cy="112.3" r="0.5" opacity="0.65"/>
<circle cx="601.4" cy="89.3" r="0.35" opacity="0.31"/>
<circle cx="576.4" cy="118.5" r="0.5" opacity="0.35"/>
<circle cx="568.4" cy="111.2" r="0.95" opacity="0.79"/>
<ellipse cx="621.4" cy="110.9" rx="1.26" ry="0.52" opacity="0.59" transform="rotate(72 621.4 110.9)"/>
<ellipse cx="582.3" cy="112.0" rx="0.55" ry="0.32" opacity="0.65" transform="rotate(93 582.3 112.0)"/>
<circle cx="575.0" cy="82.9" r="0.75" opacity="0.41"/>
<circle cx="614.9" cy="77.1" r="0.45" opacity="0.56"/>
<ellipse cx="581.7" cy="82.2" rx="1.17" ry="0.42" opacity="0.42" transform="rotate(5 581.7 82.2)"/>
<circle cx="600.9" cy="104.9" r="0.6" opacity="0.51"/>
<ellipse cx="603.0" cy="115.0" rx="1.29" ry="0.66" opacity="0.40" transform="rotate(20 603.0 115.0)"/>
<circle cx="578.5" cy="116.3" r="0.75" opacity="0.60"/>
<circle cx="603.8" cy="102.7" r="0.75" opacity="0.33"/>
<circle cx="598.1" cy="105.4" r="0.5" opacity="0.65"/>
<ellipse cx="623.7" cy="110.5" rx="1.08" ry="0.52" opacity="0.66" transform="rotate(110 623.7 110.5)"/>
<circle cx="596.3" cy="126.4" r="0.75" opacity="0.35"/>
<circle cx="624.1" cy="103.6" r="0.5" opacity="0.59"/>
<circle cx="573.2" cy="76.1" r="0.75" opacity="0.66"/>
<circle cx="581.4" cy="119.2" r="0.95" opacity="0.52"/>
<circle cx="606.5" cy="95.9" r="0.75" opacity="0.40"/>
<circle cx="599.4" cy="78.0" r="0.6" opacity="0.78"/>
<ellipse cx="577.7" cy="104.5" rx="0.66" ry="0.35" opacity="0.41" transform="rotate(46 577.7 104.5)"/>
<circle cx="578.0" cy="104.8" r="0.5" opacity="0.30"/>
<circle cx="568.6" cy="131.3" r="0.6" opacity="0.29"/>
<circle cx="623.5" cy="124.3" r="0.5" opacity="0.49"/>
<ellipse cx="574.8" cy="106.1" rx="0.99" ry="0.42" opacity="0.70" transform="rotate(108 574.8 106.1)"/>
<circle cx="586.7" cy="130.0" r="0.75" opacity="0.63"/>
<circle cx="597.5" cy="109.0" r="0.95" opacity="0.38"/>
<circle cx="596.3" cy="100.6" r="0.45" opacity="0.49"/>
<circle cx="602.5" cy="90.6" r="0.75" opacity="0.60"/>
<circle cx="621.3" cy="85.3" r="0.75" opacity="0.79"/>
<circle cx="587.3" cy="89.7" r="0.95" opacity="0.79"/>
<circle cx="624.7" cy="110.0" r="0.75" opacity="0.40"/>
<circle cx="593.2" cy="98.2" r="0.75" opacity="0.33"/>
<ellipse cx="593.0" cy="88.6" rx="0.90" ry="0.32" opacity="0.66" transform="rotate(3 593.0 88.6)"/>
<circle cx="598.2" cy="125.3" r="0.5" opacity="0.78"/>
<ellipse cx="620.9" cy="81.2" rx="0.73" ry="0.42" opacity="0.26" transform="rotate(13 620.9 81.2)"/>
<circle cx="590.5" cy="102.3" r="0.75" opacity="0.61"/>
<circle cx="601.9" cy="127.4" r="0.95" opacity="0.58"/>
<circle cx="588.8" cy="116.6" r="0.6" opacity="0.76"/>
<circle cx="579.7" cy="103.4" r="0.6" opacity="0.40"/>
<circle cx="573.5" cy="89.0" r="0.45" opacity="0.43"/>
<circle cx="574.1" cy="75.7" r="0.75" opacity="0.39"/>
<circle cx="570.1" cy="89.0" r="0.6" opacity="0.50"/>
<circle cx="578.4" cy="80.0" r="0.95" opacity="0.80"/>
<circle cx="574.5" cy="77.6" r="0.35" opacity="0.36"/>
<circle cx="611.9" cy="100.8" r="0.45" opacity="0.50"/>
<circle cx="599.8" cy="88.4" r="0.95" opacity="0.55"/>
<circle cx="615.9" cy="120.3" r="0.45" opacity="0.26"/>
<circle cx="617.1" cy="79.8" r="0.45" opacity="0.35"/>
<circle cx="584.4" cy="129.3" r="0.6" opacity="0.76"/>
<circle cx="606.8" cy="90.0" r="0.35" opacity="0.52"/>
<circle cx="575.4" cy="113.0" r="0.5" opacity="0.63"/>
<circle cx="598.1" cy="95.6" r="0.6" opacity="0.37"/>
<circle cx="613.2" cy="92.4" r="0.45" opacity="0.50"/>
<circle cx="618.4" cy="76.1" r="0.5" opacity="0.58"/>
<ellipse cx="607.1" cy="99.5" rx="0.80" ry="0.35" opacity="0.55" transform="rotate(64 607.1 99.5)"/>
<circle cx="611.2" cy="99.8" r="0.75" opacity="0.51"/>
<circle cx="577.2" cy="111.3" r="0.35" opacity="0.47"/>
<circle cx="610.9" cy="83.0" r="0.75" opacity="0.78"/>
<circle cx="569.0" cy="117.3" r="0.95" opacity="0.34"/>
<circle cx="594.9" cy="101.0" r="0.35" opacity="0.68"/>
<circle cx="581.6" cy="104.3" r="0.75" opacity="0.58"/>
<circle cx="578.8" cy="79.0" r="0.45" opacity="0.41"/>
<circle cx="596.4" cy="99.1" r="0.95" opacity="0.56"/>
<ellipse cx="591.6" cy="123.5" rx="0.95" ry="0.52" opacity="0.45" transform="rotate(176 591.6 123.5)"/>
<circle cx="619.7" cy="105.4" r="0.75" opacity="0.31"/>
<circle cx="582.4" cy="110.3" r="0.75" opacity="0.49"/>
<ellipse cx="619.5" cy="85.0" rx="1.50" ry="0.66" opacity="0.25" transform="rotate(129 619.5 85.0)"/>
<ellipse cx="593.7" cy="99.8" rx="1.56" ry="0.66" opacity="0.74" transform="rotate(149 593.7 99.8)"/>
<circle cx="623.5" cy="100.9" r="0.6" opacity="0.53"/>
<circle cx="580.1" cy="90.5" r="0.45" opacity="0.56"/>
<circle cx="589.0" cy="75.7" r="0.5" opacity="0.61"/>
<circle cx="612.9" cy="79.4" r="0.35" opacity="0.69"/>
<circle cx="569.4" cy="125.7" r="0.35" opacity="0.77"/>
<ellipse cx="604.8" cy="105.2" rx="1.20" ry="0.52" opacity="0.71" transform="rotate(24 604.8 105.2)"/>
<circle cx="611.2" cy="88.0" r="0.5" opacity="0.70"/>
<circle cx="606.2" cy="83.2" r="0.5" opacity="0.67"/>
<circle cx="602.5" cy="112.9" r="0.75" opacity="0.48"/>
<circle cx="609.3" cy="107.8" r="0.45" opacity="0.54"/>
<ellipse cx="571.9" cy="125.0" rx="0.98" ry="0.35" opacity="0.62" transform="rotate(119 571.9 125.0)"/>
<circle cx="581.3" cy="125.1" r="0.75" opacity="0.60"/>
<ellipse cx="599.6" cy="89.8" rx="0.98" ry="0.42" opacity="0.38" transform="rotate(107 599.6 89.8)"/>
<circle cx="576.8" cy="89.7" r="0.35" opacity="0.46"/>
<circle cx="594.1" cy="115.5" r="0.45" opacity="0.58"/>
<circle cx="584.6" cy="126.8" r="0.5" opacity="0.66"/>
<circle cx="579.4" cy="100.0" r="0.6" opacity="0.35"/>
<circle cx="577.1" cy="97.3" r="0.6" opacity="0.39"/>
<circle cx="582.1" cy="84.2" r="0.95" opacity="0.30"/>
<ellipse cx="588.4" cy="116.0" rx="0.77" ry="0.42" opacity="0.76" transform="rotate(126 588.4 116.0)"/>
<circle cx="616.1" cy="127.6" r="0.6" opacity="0.48"/>
<circle cx="572.2" cy="96.1" r="0.5" opacity="0.47"/>
<circle cx="623.3" cy="103.2" r="0.6" opacity="0.26"/>
<circle cx="571.3" cy="79.7" r="0.95" opacity="0.43"/>
<circle cx="577.1" cy="108.3" r="0.95" opacity="0.50"/>
<ellipse cx="585.9" cy="130.2" rx="0.90" ry="0.35" opacity="0.43" transform="rotate(168 585.9 130.2)"/>
<circle cx="621.7" cy="79.7" r="0.5" opacity="0.60"/>
<circle cx="615.0" cy="116.1" r="0.35" opacity="0.59"/>
<ellipse cx="589.7" cy="88.5" rx="0.73" ry="0.42" opacity="0.41" transform="rotate(134 589.7 88.5)"/>
<circle cx="611.2" cy="127.9" r="0.95" opacity="0.30"/>
<circle cx="572.8" cy="83.2" r="0.6" opacity="0.34"/>
<ellipse cx="597.6" cy="114.7" rx="0.93" ry="0.35" opacity="0.46" transform="rotate(99 597.6 114.7)"/>
<circle cx="579.2" cy="130.4" r="0.95" opacity="0.49"/>
<circle cx="577.1" cy="79.4" r="0.5" opacity="0.80"/>
<circle cx="609.9" cy="109.7" r="0.6" opacity="0.31"/>
<circle cx="594.3" cy="132.5" r="0.75" opacity="0.27"/>
<ellipse cx="574.7" cy="119.0" rx="0.87" ry="0.42" opacity="0.43" transform="rotate(74 574.7 119.0)"/>
<ellipse cx="587.5" cy="102.0" rx="0.98" ry="0.35" opacity="0.28" transform="rotate(77 587.5 102.0)"/>
<circle cx="599.2" cy="129.2" r="0.75" opacity="0.69"/>
<circle cx="601.1" cy="120.8" r="0.95" opacity="0.47"/>
<circle cx="587.8" cy="112.8" r="0.45" opacity="0.70"/>
<circle cx="581.5" cy="123.2" r="0.95" opacity="0.38"/>
<circle cx="577.7" cy="102.5" r="0.75" opacity="0.43"/>
<circle cx="597.4" cy="118.1" r="0.6" opacity="0.47"/>
<circle cx="569.7" cy="102.1" r="0.5" opacity="0.74"/>
<ellipse cx="576.8" cy="79.8" rx="1.30" ry="0.52" opacity="0.63" transform="rotate(157 576.8 79.8)"/>
<ellipse cx="612.9" cy="91.6" rx="0.48" ry="0.24" opacity="0.48" transform="rotate(127 612.9 91.6)"/>
<circle cx="597.6" cy="77.3" r="0.75" opacity="0.64"/>
<circle cx="621.7" cy="102.3" r="0.35" opacity="0.35"/>
<circle cx="594.4" cy="84.6" r="0.5" opacity="0.52"/>
<circle cx="586.3" cy="127.1" r="0.35" opacity="0.62"/>
<ellipse cx="622.4" cy="99.4" rx="0.98" ry="0.42" opacity="0.33" transform="rotate(179 622.4 99.4)"/>
<ellipse cx="610.4" cy="92.8" rx="0.61" ry="0.24" opacity="0.41" transform="rotate(14 610.4 92.8)"/>
<circle cx="574.9" cy="117.9" r="0.45" opacity="0.27"/>
<circle cx="578.6" cy="118.3" r="0.5" opacity="0.65"/>
<circle cx="604.0" cy="97.1" r="0.35" opacity="0.72"/>
<ellipse cx="581.4" cy="79.8" rx="1.08" ry="0.42" opacity="0.64" transform="rotate(2 581.4 79.8)"/>
<circle cx="615.6" cy="129.0" r="0.35" opacity="0.66"/>
<circle cx="581.0" cy="100.3" r="0.45" opacity="0.29"/>
<circle cx="623.4" cy="127.3" r="0.75" opacity="0.70"/>
<circle cx="610.9" cy="107.6" r="0.6" opacity="0.53"/>
<circle cx="594.5" cy="100.7" r="0.95" opacity="0.79"/>
<circle cx="593.2" cy="83.1" r="0.6" opacity="0.74"/>
<circle cx="588.0" cy="76.7" r="0.75" opacity="0.50"/>
<ellipse cx="605.9" cy="129.3" rx="1.30" ry="0.52" opacity="0.67" transform="rotate(112 605.9 129.3)"/>
<circle cx="622.7" cy="124.1" r="0.5" opacity="0.75"/>
<circle cx="573.0" cy="129.6" r="0.95" opacity="0.66"/>
<ellipse cx="613.0" cy="78.7" rx="0.79" ry="0.35" opacity="0.78" transform="rotate(52 613.0 78.7)"/>
<ellipse cx="604.1" cy="95.8" rx="1.01" ry="0.42" opacity="0.28" transform="rotate(154 604.1 95.8)"/>
<circle cx="599.0" cy="132.0" r="0.6" opacity="0.56"/>
<circle cx="585.6" cy="87.9" r="0.45" opacity="0.56"/>
<circle cx="595.5" cy="132.1" r="0.5" opacity="0.36"/>
<circle cx="589.6" cy="131.5" r="0.75" opacity="0.53"/>
<circle cx="604.1" cy="110.3" r="0.5" opacity="0.69"/>
<circle cx="583.4" cy="111.1" r="0.45" opacity="0.78"/>
<circle cx="606.5" cy="129.8" r="0.75" opacity="0.69"/>
<circle cx="587.6" cy="93.5" r="0.35" opacity="0.38"/>
<circle cx="586.7" cy="108.2" r="0.6" opacity="0.79"/>
<ellipse cx="612.3" cy="101.2" rx="0.50" ry="0.24" opacity="0.41" transform="rotate(86 612.3 101.2)"/>
<ellipse cx="573.7" cy="110.6" rx="1.74" ry="0.66" opacity="0.29" transform="rotate(161 573.7 110.6)"/>
<ellipse cx="620.3" cy="105.6" rx="0.44" ry="0.24" opacity="0.41" transform="rotate(55 620.3 105.6)"/>
<circle cx="604.3" cy="107.7" r="0.45" opacity="0.58"/>
<ellipse cx="590.6" cy="98.1" rx="1.72" ry="0.66" opacity="0.77" transform="rotate(30 590.6 98.1)"/>
<circle cx="572.4" cy="102.3" r="0.6" opacity="0.37"/>
<circle cx="601.5" cy="98.1" r="0.5" opacity="0.68"/>
<ellipse cx="621.8" cy="75.8" rx="0.92" ry="0.42" opacity="0.70" transform="rotate(90 621.8 75.8)"/>
<circle cx="571.6" cy="108.9" r="0.6" opacity="0.36"/>
<circle cx="569.1" cy="104.7" r="0.35" opacity="0.42"/>
<circle cx="608.1" cy="108.8" r="0.6" opacity="0.57"/>
<ellipse cx="608.2" cy="78.1" rx="1.07" ry="0.52" opacity="0.50" transform="rotate(160 608.2 78.1)"/>
<circle cx="570.4" cy="112.1" r="0.6" opacity="0.37"/>
<ellipse cx="572.4" cy="101.3" rx="1.23" ry="0.52" opacity="0.35" transform="rotate(163 572.4 101.3)"/>
<ellipse cx="604.1" cy="108.1" rx="0.43" ry="0.24" opacity="0.58" transform="rotate(177 604.1 108.1)"/>
<ellipse cx="575.8" cy="92.4" rx="1.38" ry="0.66" opacity="0.72" transform="rotate(153 575.8 92.4)"/>
<ellipse cx="600.2" cy="104.2" rx="0.70" ry="0.35" opacity="0.55" transform="rotate(21 600.2 104.2)"/>
<circle cx="582.7" cy="91.5" r="0.6" opacity="0.30"/>
<ellipse cx="622.8" cy="83.5" rx="1.13" ry="0.52" opacity="0.59" transform="rotate(92 622.8 83.5)"/>
<ellipse cx="578.6" cy="119.3" rx="0.76" ry="0.32" opacity="0.51" transform="rotate(81 578.6 119.3)"/>
<circle cx="581.5" cy="128.2" r="0.45" opacity="0.52"/>
<circle cx="588.4" cy="118.4" r="0.35" opacity="0.44"/>
<circle cx="588.3" cy="85.1" r="0.6" opacity="0.49"/>
<circle cx="570.1" cy="102.6" r="0.35" opacity="0.58"/>
<circle cx="609.5" cy="114.9" r="0.95" opacity="0.26"/>
<circle cx="617.1" cy="121.8" r="0.75" opacity="0.50"/>
<circle cx="598.3" cy="88.7" r="0.35" opacity="0.53"/>
<ellipse cx="608.9" cy="111.7" rx="0.64" ry="0.24" opacity="0.43" transform="rotate(127 608.9 111.7)"/>
<circle cx="606.9" cy="102.1" r="0.35" opacity="0.76"/>
<circle cx="587.0" cy="106.2" r="0.6" opacity="0.59"/>
<circle cx="597.0" cy="104.2" r="0.95" opacity="0.73"/>
<ellipse cx="614.5" cy="113.5" rx="0.53" ry="0.24" opacity="0.79" transform="rotate(151 614.5 113.5)"/>
<ellipse cx="620.8" cy="88.1" rx="0.83" ry="0.42" opacity="0.74" transform="rotate(168 620.8 88.1)"/>
<circle cx="620.8" cy="80.3" r="0.35" opacity="0.41"/>
<ellipse cx="611.1" cy="92.0" rx="0.67" ry="0.35" opacity="0.42" transform="rotate(133 611.1 92.0)"/>
<circle cx="573.6" cy="111.1" r="0.95" opacity="0.40"/>
<circle cx="611.6" cy="92.4" r="0.45" opacity="0.41"/>
<circle cx="603.0" cy="96.4" r="0.35" opacity="0.30"/>
<circle cx="614.6" cy="82.2" r="0.75" opacity="0.27"/>
<circle cx="573.0" cy="113.1" r="0.35" opacity="0.26"/>
<circle cx="612.3" cy="117.4" r="0.5" opacity="0.33"/>
<circle cx="597.1" cy="104.3" r="0.95" opacity="0.77"/>
<circle cx="599.3" cy="132.3" r="0.35" opacity="0.68"/>
<circle cx="605.8" cy="78.1" r="0.45" opacity="0.29"/>
<circle cx="607.4" cy="125.6" r="0.35" opacity="0.42"/>
<ellipse cx="587.2" cy="84.9" rx="0.65" ry="0.24" opacity="0.25" transform="rotate(154 587.2 84.9)"/>
<ellipse cx="620.5" cy="82.4" rx="1.35" ry="0.52" opacity="0.63" transform="rotate(157 620.5 82.4)"/>
<circle cx="616.2" cy="84.0" r="0.95" opacity="0.33"/>
<circle cx="573.1" cy="107.3" r="0.45" opacity="0.26"/>
<circle cx="605.0" cy="99.2" r="0.75" opacity="0.32"/>
<ellipse cx="597.8" cy="78.4" rx="1.61" ry="0.66" opacity="0.64" transform="rotate(32 597.8 78.4)"/>
<circle cx="572.6" cy="105.4" r="0.35" opacity="0.41"/>
<circle cx="599.2" cy="112.7" r="0.6" opacity="0.43"/>
<ellipse cx="580.2" cy="117.5" rx="0.74" ry="0.35" opacity="0.27" transform="rotate(123 580.2 117.5)"/>
<circle cx="615.8" cy="100.3" r="0.45" opacity="0.51"/>
<circle cx="582.8" cy="98.6" r="0.95" opacity="0.39"/>
<ellipse cx="580.2" cy="81.3" rx="0.58" ry="0.24" opacity="0.44" transform="rotate(10 580.2 81.3)"/>
<circle cx="580.7" cy="124.3" r="0.95" opacity="0.35"/>
<ellipse cx="607.3" cy="126.1" rx="0.74" ry="0.32" opacity="0.27" transform="rotate(97 607.3 126.1)"/>
<ellipse cx="615.7" cy="123.1" rx="0.51" ry="0.24" opacity="0.26" transform="rotate(109 615.7 123.1)"/>
<circle cx="586.9" cy="93.6" r="0.75" opacity="0.32"/>
<circle cx="580.2" cy="93.4" r="0.45" opacity="0.58"/>
<ellipse cx="585.4" cy="93.3" rx="0.65" ry="0.32" opacity="0.30" transform="rotate(90 585.4 93.3)"/>
<ellipse cx="572.1" cy="130.4" rx="0.93" ry="0.52" opacity="0.60" transform="rotate(139 572.1 130.4)"/>
<circle cx="574.5" cy="91.1" r="0.45" opacity="0.80"/>
<circle cx="582.1" cy="131.7" r="0.75" opacity="0.30"/>
<circle cx="605.6" cy="131.4" r="0.95" opacity="0.66"/>
<circle cx="569.6" cy="129.0" r="0.5" opacity="0.42"/>
<circle cx="596.6" cy="80.2" r="0.95" opacity="0.71"/>
<circle cx="616.7" cy="85.2" r="0.5" opacity="0.65"/>
<circle cx="613.0" cy="111.5" r="0.95" opacity="0.78"/>
<circle cx="595.5" cy="78.6" r="0.5" opacity="0.67"/>
<circle cx="619.0" cy="98.5" r="0.75" opacity="0.59"/>
<circle cx="615.2" cy="94.5" r="0.6" opacity="0.49"/>
<ellipse cx="607.5" cy="105.6" rx="0.93" ry="0.35" opacity="0.55" transform="rotate(50 607.5 105.6)"/>
<circle cx="575.7" cy="125.8" r="0.5" opacity="0.52"/>
<circle cx="621.4" cy="108.3" r="0.95" opacity="0.42"/>
<ellipse cx="612.8" cy="129.5" rx="0.51" ry="0.24" opacity="0.79" transform="rotate(39 612.8 129.5)"/>
<circle cx="569.5" cy="126.5" r="0.5" opacity="0.64"/>
<circle cx="593.2" cy="121.8" r="0.35" opacity="0.32"/>
<circle cx="589.9" cy="118.6" r="0.5" opacity="0.60"/>
<circle cx="579.3" cy="98.6" r="0.5" opacity="0.60"/>
<circle cx="601.5" cy="108.1" r="0.45" opacity="0.72"/>
<ellipse cx="610.0" cy="117.5" rx="0.63" ry="0.24" opacity="0.65" transform="rotate(36 610.0 117.5)"/>
<ellipse cx="589.5" cy="89.1" rx="0.52" ry="0.24" opacity="0.28" transform="rotate(19 589.5 89.1)"/>
<ellipse cx="604.3" cy="99.8" rx="0.66" ry="0.32" opacity="0.49" transform="rotate(126 604.3 99.8)"/>
<ellipse cx="578.4" cy="89.3" rx="0.69" ry="0.35" opacity="0.75" transform="rotate(80 578.4 89.3)"/>
<circle cx="614.2" cy="80.0" r="0.95" opacity="0.41"/>
<circle cx="573.7" cy="107.0" r="0.95" opacity="0.75"/>
<circle cx="582.3" cy="116.6" r="0.75" opacity="0.31"/>
</g>
<text x="575.0" y="85.8" font-family="'Liberation Sans', Arial, sans-serif" font-size="6.3" font-weight="bold" text-anchor="start" fill="#e99a0c" stroke="#e99a0c" stroke-width="0.22">6ul</text>
<text x="623.3" y="130.8" font-family="'Liberation Serif', 'Times New Roman', serif" font-size="6.2" font-weight="bold" text-anchor="end" fill="#ee9c0e">20X</text>
<text x="1.6" y="155.7" font-family="'Liberation Serif', 'Times New Roman', serif" font-size="12.6" font-weight="bold" text-anchor="start" fill="#000" stroke="#000" stroke-width="0.28">(D)</text>
<line x1="79.85" y1="185.21" x2="79.85" y2="192.10" stroke="#111" stroke-width="0.6"/>
<line x1="77.22" y1="185.21" x2="82.48" y2="185.21" stroke="#111" stroke-width="0.6"/>
<rect x="74.80" y="191.60" width="10.10" height="47.30" fill="#000000"/>
<line x1="95.15" y1="219.98" x2="95.15" y2="221.66" stroke="#a5a5ab" stroke-width="0.6"/>
<line x1="92.47" y1="219.98" x2="97.83" y2="219.98" stroke="#a5a5ab" stroke-width="0.6"/>
<rect x="90.00" y="221.16" width="10.30" height="17.74" fill="#a5a5ab"/>
<line x1="110.45" y1="220.69" x2="110.45" y2="222.61" stroke="#7f7f7f" stroke-width="0.6"/>
<line x1="107.77" y1="220.69" x2="113.13" y2="220.69" stroke="#7f7f7f" stroke-width="0.6"/>
<rect x="105.30" y="222.11" width="10.30" height="16.79" fill="#7f7f7f"/>
<line x1="69.20" y1="167.55" x2="69.20" y2="239.30" stroke="#111" stroke-width="0.8"/>
<line x1="68.80" y1="238.90" x2="120.80" y2="238.90" stroke="#111" stroke-width="0.8"/>
<line x1="66.60" y1="167.95" x2="69.20" y2="167.95" stroke="#111" stroke-width="0.8"/>
<text x="65.6" y="170.04" font-family="'Liberation Sans', Arial, sans-serif" font-size="5.8" font-weight="bold" text-anchor="end" fill="#111" stroke="#111" stroke-width="0.22">1.5</text>
<line x1="66.60" y1="191.60" x2="69.20" y2="191.60" stroke="#111" stroke-width="0.8"/>
<text x="65.6" y="193.69" font-family="'Liberation Sans', Arial, sans-serif" font-size="5.8" font-weight="bold" text-anchor="end" fill="#111" stroke="#111" stroke-width="0.22">1.0</text>
<line x1="66.60" y1="215.25" x2="69.20" y2="215.25" stroke="#111" stroke-width="0.8"/>
<text x="65.6" y="217.34" font-family="'Liberation Sans', Arial, sans-serif" font-size="5.8" font-weight="bold" text-anchor="end" fill="#111" stroke="#111" stroke-width="0.22">0.5</text>
<line x1="66.60" y1="238.90" x2="69.20" y2="238.90" stroke="#111" stroke-width="0.8"/>
<text x="65.6" y="240.99" font-family="'Liberation Sans', Arial, sans-serif" font-size="5.8" font-weight="bold" text-anchor="end" fill="#111" stroke="#111" stroke-width="0.22">0.0</text>
<line x1="79.85" y1="238.90" x2="79.85" y2="241.80" stroke="#111" stroke-width="0.8"/>
<line x1="95.15" y1="238.90" x2="95.15" y2="241.80" stroke="#111" stroke-width="0.8"/>
<line x1="110.45" y1="238.90" x2="110.45" y2="241.80" stroke="#111" stroke-width="0.8"/>
<text x="80.45" y="247.5" font-family="'Liberation Sans', Arial, sans-serif" font-size="5.9" font-weight="bold" text-anchor="end" fill="#111" transform="rotate(-45 80.45 247.5)" stroke="#111" stroke-width="0.22">Control</text>
<text x="95.75" y="247.5" font-family="'Liberation Sans', Arial, sans-serif" font-size="5.9" font-weight="bold" text-anchor="end" fill="#111" transform="rotate(-45 95.75 247.5)" textLength="37.2" lengthAdjust="spacingAndGlyphs" stroke="#111" stroke-width="0.22">si1-MEG3#5μL</text>
<text x="111.05" y="247.5" font-family="'Liberation Sans', Arial, sans-serif" font-size="5.9" font-weight="bold" text-anchor="end" fill="#111" transform="rotate(-45 111.05 247.5)" textLength="37.2" lengthAdjust="spacingAndGlyphs" stroke="#111" stroke-width="0.22">si1-MEG3#7μL</text>
<text x="95.15" y="217.38" font-family="'Liberation Sans', Arial, sans-serif" font-size="4.6" font-weight="bold" text-anchor="middle" fill="#333" stroke="#333" stroke-width="0.22">**</text>
<text x="110.45" y="217.38" font-family="'Liberation Sans', Arial, sans-serif" font-size="4.6" font-weight="bold" text-anchor="middle" fill="#333" stroke="#333" stroke-width="0.22">**</text>
<text x="38.2" y="203.2" font-family="'Liberation Sans', Arial, sans-serif" font-size="5.85" font-weight="bold" text-anchor="middle" fill="#111" transform="rotate(-90 38.2 203.2)" stroke="#111" stroke-width="0.22">Relative expression</text>
<text x="46.4" y="203.2" font-family="'Liberation Sans', Arial, sans-serif" font-size="5.85" font-weight="bold" text-anchor="middle" fill="#111" transform="rotate(-90 46.4 203.2)" stroke="#111" stroke-width="0.22">of siRNA MEG3</text>
<rect x="138.20" y="171.40" width="8.40" height="3.40" fill="#000000"/>
<text x="151.1" y="174.8" font-family="'Liberation Sans', Arial, sans-serif" font-size="6.25" font-weight="normal" text-anchor="start" fill="#111" stroke="#111" stroke-width="0.16">Control</text>
<rect x="138.20" y="180.80" width="8.40" height="3.40" fill="#a5a5ab"/>
<text x="151.1" y="184.3" font-family="'Liberation Sans', Arial, sans-serif" font-size="6.25" font-weight="normal" text-anchor="start" fill="#111" stroke="#111" stroke-width="0.16" textLength="43.0" lengthAdjust="spacingAndGlyphs">si1-MEG3#5μL</text>
<rect x="138.20" y="190.20" width="8.40" height="3.50" fill="#7f7f7f"/>
<text x="151.1" y="193.9" font-family="'Liberation Sans', Arial, sans-serif" font-size="6.25" font-weight="normal" text-anchor="start" fill="#111" stroke="#111" stroke-width="0.16" textLength="43.0" lengthAdjust="spacingAndGlyphs">si1-MEG3#7μL</text>
<text x="226.8" y="156.1" font-family="'Liberation Serif', 'Times New Roman', serif" font-size="12.6" font-weight="bold" text-anchor="start" fill="#000" stroke="#000" stroke-width="0.28">(E)</text>
<line x1="306.20" y1="185.39" x2="306.20" y2="190.25" stroke="#111" stroke-width="0.6"/>
<line x1="303.70" y1="185.39" x2="308.70" y2="185.39" stroke="#111" stroke-width="0.6"/>
<rect x="301.40" y="189.75" width="9.60" height="48.40" fill="#000000"/>
<line x1="320.80" y1="206.93" x2="320.80" y2="213.00" stroke="#a5a5ab" stroke-width="0.6"/>
<line x1="318.36" y1="206.93" x2="323.24" y2="206.93" stroke="#a5a5ab" stroke-width="0.6"/>
<rect x="316.10" y="212.50" width="9.40" height="25.65" fill="#a5a5ab"/>
<line x1="335.15" y1="211.77" x2="335.15" y2="213.97" stroke="#7f7f7f" stroke-width="0.6"/>
<line x1="332.68" y1="211.77" x2="337.62" y2="211.77" stroke="#7f7f7f" stroke-width="0.6"/>
<rect x="330.40" y="213.47" width="9.50" height="24.68" fill="#7f7f7f"/>
<line x1="296.30" y1="165.15" x2="296.30" y2="238.55" stroke="#111" stroke-width="0.8"/>
<line x1="295.90" y1="238.15" x2="344.80" y2="238.15" stroke="#111" stroke-width="0.8"/>
<line x1="293.70" y1="165.55" x2="296.30" y2="165.55" stroke="#111" stroke-width="0.8"/>
<text x="292.7" y="167.55" font-family="'Liberation Sans', Arial, sans-serif" font-size="5.55" font-weight="bold" text-anchor="end" fill="#111" stroke="#111" stroke-width="0.22">1.5</text>
<line x1="293.70" y1="189.75" x2="296.30" y2="189.75" stroke="#111" stroke-width="0.8"/>
<text x="292.7" y="191.75" font-family="'Liberation Sans', Arial, sans-serif" font-size="5.55" font-weight="bold" text-anchor="end" fill="#111" stroke="#111" stroke-width="0.22">1.0</text>
<line x1="293.70" y1="213.95" x2="296.30" y2="213.95" stroke="#111" stroke-width="0.8"/>
<text x="292.7" y="215.95" font-family="'Liberation Sans', Arial, sans-serif" font-size="5.55" font-weight="bold" text-anchor="end" fill="#111" stroke="#111" stroke-width="0.22">0.5</text>
<line x1="293.70" y1="238.15" x2="296.30" y2="238.15" stroke="#111" stroke-width="0.8"/>
<text x="292.7" y="240.15" font-family="'Liberation Sans', Arial, sans-serif" font-size="5.55" font-weight="bold" text-anchor="end" fill="#111" stroke="#111" stroke-width="0.22">0.0</text>
<line x1="306.20" y1="238.15" x2="306.20" y2="241.05" stroke="#111" stroke-width="0.8"/>
<line x1="320.80" y1="238.15" x2="320.80" y2="241.05" stroke="#111" stroke-width="0.8"/>
<line x1="335.15" y1="238.15" x2="335.15" y2="241.05" stroke="#111" stroke-width="0.8"/>
<text x="306.8" y="246.55" font-family="'Liberation Sans', Arial, sans-serif" font-size="5.8" font-weight="bold" text-anchor="end" fill="#111" transform="rotate(-45 306.8 246.55)" stroke="#111" stroke-width="0.22">Control</text>
<text x="321.4" y="246.55" font-family="'Liberation Sans', Arial, sans-serif" font-size="5.8" font-weight="bold" text-anchor="end" fill="#111" transform="rotate(-45 321.4 246.55)" textLength="36.2" lengthAdjust="spacingAndGlyphs" stroke="#111" stroke-width="0.22">si2-MEG3#5μL</text>
<text x="335.75" y="246.55" font-family="'Liberation Sans', Arial, sans-serif" font-size="5.8" font-weight="bold" text-anchor="end" fill="#111" transform="rotate(-45 335.75 246.55)" textLength="36.2" lengthAdjust="spacingAndGlyphs" stroke="#111" stroke-width="0.22">si2-MEG3#7μL</text>
<text x="320.8" y="204.58" font-family="'Liberation Sans', Arial, sans-serif" font-size="4.6" font-weight="bold" text-anchor="middle" fill="#333" stroke="#333" stroke-width="0.22">*</text>
<text x="335.15" y="208.28" font-family="'Liberation Sans', Arial, sans-serif" font-size="4.6" font-weight="bold" text-anchor="middle" fill="#333" stroke="#333" stroke-width="0.22">**</text>
<text x="267.2" y="201.7" font-family="'Liberation Sans', Arial, sans-serif" font-size="5.85" font-weight="bold" text-anchor="middle" fill="#111" transform="rotate(-90 267.2 201.7)" stroke="#111" stroke-width="0.22">Relative expression</text>
<text x="274.1" y="201.7" font-family="'Liberation Sans', Arial, sans-serif" font-size="5.85" font-weight="bold" text-anchor="middle" fill="#111" transform="rotate(-90 274.1 201.7)" stroke="#111" stroke-width="0.22">of siRNA MEG3</text>
<rect x="360.90" y="168.70" width="8.10" height="3.40" fill="#000000"/>
<text x="373.1" y="172.3" font-family="'Liberation Sans', Arial, sans-serif" font-size="6.0" font-weight="normal" text-anchor="start" fill="#111" stroke="#111" stroke-width="0.16">Control</text>
<rect x="360.90" y="178.40" width="8.10" height="3.40" fill="#a5a5ab"/>
<text x="373.1" y="182.0" font-family="'Liberation Sans', Arial, sans-serif" font-size="6.0" font-weight="normal" text-anchor="start" fill="#111" stroke="#111" stroke-width="0.16" textLength="40.4" lengthAdjust="spacingAndGlyphs">si2-MEG3#5μL</text>
<rect x="360.90" y="188.10" width="8.10" height="3.40" fill="#7f7f7f"/>
<text x="373.1" y="191.8" font-family="'Liberation Sans', Arial, sans-serif" font-size="6.0" font-weight="normal" text-anchor="start" fill="#111" stroke="#111" stroke-width="0.16" textLength="40.4" lengthAdjust="spacingAndGlyphs">si2-MEG3#7μL</text>
<text x="473.0" y="156.1" font-family="'Liberation Serif', 'Times New Roman', serif" font-size="12.6" font-weight="bold" text-anchor="start" fill="#000" stroke="#000" stroke-width="0.28">(F)</text>
<line x1="546.30" y1="179.33" x2="546.30" y2="187.10" stroke="#111" stroke-width="0.6"/>
<line x1="543.75" y1="179.33" x2="548.85" y2="179.33" stroke="#111" stroke-width="0.6"/>
<rect x="541.40" y="186.60" width="9.80" height="51.90" fill="#000000"/>
<line x1="561.70" y1="219.30" x2="561.70" y2="222.39" stroke="#a5a5ab" stroke-width="0.6"/>
<line x1="559.00" y1="219.30" x2="564.40" y2="219.30" stroke="#a5a5ab" stroke-width="0.6"/>
<rect x="556.50" y="221.89" width="10.40" height="16.61" fill="#a5a5ab"/>
<line x1="577.20" y1="218.52" x2="577.20" y2="221.87" stroke="#7f7f7f" stroke-width="0.6"/>
<line x1="574.50" y1="218.52" x2="579.90" y2="218.52" stroke="#7f7f7f" stroke-width="0.6"/>
<rect x="572.00" y="221.37" width="10.40" height="17.13" fill="#7f7f7f"/>
<line x1="535.90" y1="160.25" x2="535.90" y2="238.90" stroke="#111" stroke-width="0.8"/>
<line x1="535.50" y1="238.50" x2="587.90" y2="238.50" stroke="#111" stroke-width="0.8"/>
<line x1="533.30" y1="160.65" x2="535.90" y2="160.65" stroke="#111" stroke-width="0.8"/>
<text x="531.9" y="162.74" font-family="'Liberation Sans', Arial, sans-serif" font-size="5.8" font-weight="bold" text-anchor="end" fill="#111" stroke="#111" stroke-width="0.22">1.5</text>
<line x1="533.30" y1="186.60" x2="535.90" y2="186.60" stroke="#111" stroke-width="0.8"/>
<text x="531.9" y="188.69" font-family="'Liberation Sans', Arial, sans-serif" font-size="5.8" font-weight="bold" text-anchor="end" fill="#111" stroke="#111" stroke-width="0.22">1.0</text>
<line x1="533.30" y1="212.55" x2="535.90" y2="212.55" stroke="#111" stroke-width="0.8"/>
<text x="531.9" y="214.64" font-family="'Liberation Sans', Arial, sans-serif" font-size="5.8" font-weight="bold" text-anchor="end" fill="#111" stroke="#111" stroke-width="0.22">0.5</text>
<line x1="533.30" y1="238.50" x2="535.90" y2="238.50" stroke="#111" stroke-width="0.8"/>
<text x="531.9" y="240.59" font-family="'Liberation Sans', Arial, sans-serif" font-size="5.8" font-weight="bold" text-anchor="end" fill="#111" stroke="#111" stroke-width="0.22">0.0</text>
<line x1="546.30" y1="238.50" x2="546.30" y2="241.40" stroke="#111" stroke-width="0.8"/>
<line x1="561.70" y1="238.50" x2="561.70" y2="241.40" stroke="#111" stroke-width="0.8"/>
<line x1="577.20" y1="238.50" x2="577.20" y2="241.40" stroke="#111" stroke-width="0.8"/>
<text x="546.9" y="247.5" font-family="'Liberation Sans', Arial, sans-serif" font-size="6.1" font-weight="bold" text-anchor="end" fill="#111" transform="rotate(-45 546.9 247.5)" stroke="#111" stroke-width="0.22">Control</text>
<text x="562.3" y="247.5" font-family="'Liberation Sans', Arial, sans-serif" font-size="6.1" font-weight="bold" text-anchor="end" fill="#111" transform="rotate(-45 562.3 247.5)" textLength="39.6" lengthAdjust="spacingAndGlyphs" stroke="#111" stroke-width="0.22">si3-MEG3#5μL</text>
<text x="577.8" y="247.5" font-family="'Liberation Sans', Arial, sans-serif" font-size="6.1" font-weight="bold" text-anchor="end" fill="#111" transform="rotate(-45 577.8 247.5)" textLength="39.6" lengthAdjust="spacingAndGlyphs" stroke="#111" stroke-width="0.22">si3-MEG3#7μL</text>
<text x="561.7" y="216.18" font-family="'Liberation Sans', Arial, sans-serif" font-size="4.6" font-weight="bold" text-anchor="middle" fill="#333" stroke="#333" stroke-width="0.22">**</text>
<text x="577.2" y="214.08" font-family="'Liberation Sans', Arial, sans-serif" font-size="4.6" font-weight="bold" text-anchor="middle" fill="#333" stroke="#333" stroke-width="0.22">**</text>
<text x="504.0" y="199.1" font-family="'Liberation Sans', Arial, sans-serif" font-size="6.3" font-weight="bold" text-anchor="middle" fill="#111" transform="rotate(-90 504.0 199.1)" stroke="#111" stroke-width="0.22">Relative expression</text>
<text x="512.2" y="199.1" font-family="'Liberation Sans', Arial, sans-serif" font-size="6.3" font-weight="bold" text-anchor="middle" fill="#111" transform="rotate(-90 512.2 199.1)" stroke="#111" stroke-width="0.22">of siRNA MEG3</text>
<rect x="605.10" y="164.00" width="8.70" height="3.70" fill="#000000"/>
<text x="618.3" y="167.9" font-family="'Liberation Sans', Arial, sans-serif" font-size="6.35" font-weight="normal" text-anchor="start" fill="#111" stroke="#111" stroke-width="0.16">Control</text>
<rect x="605.10" y="174.50" width="8.70" height="3.60" fill="#a5a5ab"/>
<text x="618.3" y="178.5" font-family="'Liberation Sans', Arial, sans-serif" font-size="6.35" font-weight="normal" text-anchor="start" fill="#111" stroke="#111" stroke-width="0.16" textLength="43.1" lengthAdjust="spacingAndGlyphs">si3-MEG3#5μL</text>
<rect x="605.10" y="185.10" width="8.70" height="3.70" fill="#7f7f7f"/>
<text x="618.3" y="189.1" font-family="'Liberation Sans', Arial, sans-serif" font-size="6.35" font-weight="normal" text-anchor="start" fill="#111" stroke="#111" stroke-width="0.16" textLength="43.1" lengthAdjust="spacingAndGlyphs">si3-MEG3#7μL</text>
<text x="1.6" y="295.9" font-family="'Liberation Serif', 'Times New Roman', serif" font-size="12.6" font-weight="bold" text-anchor="start" fill="#000" stroke="#000" stroke-width="0.28">(G)</text>
<line x1="39.75" y1="319.05" x2="39.75" y2="327.49" stroke="#111" stroke-width="0.6"/>
<line x1="38.06" y1="319.05" x2="41.44" y2="319.05" stroke="#111" stroke-width="0.6"/>
<rect x="36.50" y="326.99" width="6.50" height="44.31" fill="#000000"/>
<line x1="49.30" y1="355.42" x2="49.30" y2="358.22" stroke="#5c5c5c" stroke-width="0.6"/>
<line x1="47.58" y1="355.42" x2="51.02" y2="355.42" stroke="#5c5c5c" stroke-width="0.6"/>
<rect x="46.00" y="357.72" width="6.60" height="13.58" fill="#a5a5ab"/>
<line x1="59.10" y1="345.59" x2="59.10" y2="350.06" stroke="#8c8c8c" stroke-width="0.6"/>
<line x1="57.38" y1="345.59" x2="60.82" y2="345.59" stroke="#8c8c8c" stroke-width="0.6"/>
<rect x="55.80" y="349.56" width="6.60" height="21.74" fill="#7f7f7f"/>
<line x1="68.80" y1="351.24" x2="68.80" y2="354.45" stroke="#6c6c6c" stroke-width="0.6"/>
<line x1="67.08" y1="351.24" x2="70.52" y2="351.24" stroke="#6c6c6c" stroke-width="0.6"/>
<rect x="65.50" y="353.95" width="6.60" height="17.35" fill="#d9d9d9"/>
<line x1="33.60" y1="308.25" x2="33.60" y2="371.65" stroke="#111" stroke-width="0.7"/>
<line x1="33.25" y1="371.30" x2="75.60" y2="371.30" stroke="#111" stroke-width="0.7"/>
<line x1="31.00" y1="308.60" x2="33.60" y2="308.60" stroke="#111" stroke-width="0.7"/>
<text x="30.1" y="310.44" font-family="'Liberation Sans', Arial, sans-serif" font-size="5.1" font-weight="bold" text-anchor="end" fill="#111" stroke="#111" stroke-width="0.22">1.5</text>
<line x1="31.00" y1="329.50" x2="33.60" y2="329.50" stroke="#111" stroke-width="0.7"/>
<text x="30.1" y="331.34" font-family="'Liberation Sans', Arial, sans-serif" font-size="5.1" font-weight="bold" text-anchor="end" fill="#111" stroke="#111" stroke-width="0.22">1.0</text>
<line x1="31.00" y1="350.40" x2="33.60" y2="350.40" stroke="#111" stroke-width="0.7"/>
<text x="30.1" y="352.24" font-family="'Liberation Sans', Arial, sans-serif" font-size="5.1" font-weight="bold" text-anchor="end" fill="#111" stroke="#111" stroke-width="0.22">0.5</text>
<line x1="31.00" y1="371.30" x2="33.60" y2="371.30" stroke="#111" stroke-width="0.7"/>
<text x="30.1" y="373.14" font-family="'Liberation Sans', Arial, sans-serif" font-size="5.1" font-weight="bold" text-anchor="end" fill="#111" stroke="#111" stroke-width="0.22">0.0</text>
<line x1="39.75" y1="371.30" x2="39.75" y2="373.80" stroke="#111" stroke-width="0.7"/>
<line x1="49.30" y1="371.30" x2="49.30" y2="373.80" stroke="#111" stroke-width="0.7"/>
<line x1="59.10" y1="371.30" x2="59.10" y2="373.80" stroke="#111" stroke-width="0.7"/>
<line x1="68.80" y1="371.30" x2="68.80" y2="373.80" stroke="#111" stroke-width="0.7"/>
<text x="40.85" y="379.3" font-family="'Liberation Sans', Arial, sans-serif" font-size="4.5" font-weight="bold" text-anchor="end" fill="#111" transform="rotate(-45 40.85 379.3)" stroke="#111" stroke-width="0.22">N-C</text>
<text x="50.4" y="379.3" font-family="'Liberation Sans', Arial, sans-serif" font-size="4.5" font-weight="bold" text-anchor="end" fill="#111" transform="rotate(-45 50.4 379.3)" stroke="#111" stroke-width="0.22">si-C</text>
<text x="60.2" y="379.3" font-family="'Liberation Sans', Arial, sans-serif" font-size="4.5" font-weight="bold" text-anchor="end" fill="#111" transform="rotate(-45 60.2 379.3)" stroke="#111" stroke-width="0.22">NC-V</text>
<text x="69.9" y="379.3" font-family="'Liberation Sans', Arial, sans-serif" font-size="4.5" font-weight="bold" text-anchor="end" fill="#111" transform="rotate(-45 69.9 379.3)" stroke="#111" stroke-width="0.22">si-V</text>
<text x="49.3" y="353.15" font-family="'Liberation Sans', Arial, sans-serif" font-size="4.2" font-weight="bold" text-anchor="middle" fill="#555" stroke="#555" stroke-width="0.22">**</text>
<text x="59.1" y="344.15" font-family="'Liberation Sans', Arial, sans-serif" font-size="4.2" font-weight="bold" text-anchor="middle" fill="#555" stroke="#555" stroke-width="0.22">**</text>
<text x="68.8" y="350.05" font-family="'Liberation Sans', Arial, sans-serif" font-size="4.2" font-weight="bold" text-anchor="middle" fill="#555" stroke="#555" stroke-width="0.22">**</text>
<text x="7.3" y="340.0" font-family="'Liberation Sans', Arial, sans-serif" font-size="5.1" font-weight="bold" text-anchor="middle" fill="#111" transform="rotate(-90 7.3 340.0)" stroke="#111" stroke-width="0.22">Relative expression</text>
<text x="13.9" y="340.0" font-family="'Liberation Sans', Arial, sans-serif" font-size="5.1" font-weight="bold" text-anchor="middle" fill="#111" transform="rotate(-90 13.9 340.0)" stroke="#111" stroke-width="0.22">of lncRNA MEG3</text>
<text x="54.3" y="395.4" font-family="'Liberation Sans', Arial, sans-serif" font-size="5.1" font-weight="bold" text-anchor="middle" fill="#111" stroke="#111" stroke-width="0.22">20Hz 1d</text>
<rect x="89.90" y="311.40" width="6.50" height="2.80" fill="#000000"/>
<text x="100.4" y="314.3" font-family="'Liberation Sans', Arial, sans-serif" font-size="5.05" font-weight="normal" text-anchor="start" fill="#111" stroke="#111" stroke-width="0.16">Negative control</text>
<rect x="89.90" y="319.80" width="6.50" height="2.90" fill="#a5a5ab"/>
<text x="100.4" y="322.8" font-family="'Liberation Sans', Arial, sans-serif" font-size="5.05" font-weight="normal" text-anchor="start" fill="#111" stroke="#111" stroke-width="0.16">siRNA-control</text>
<rect x="89.90" y="328.30" width="6.50" height="2.90" fill="#7f7f7f"/>
<text x="100.4" y="331.3" font-family="'Liberation Sans', Arial, sans-serif" font-size="5.05" font-weight="normal" text-anchor="start" fill="#111" stroke="#111" stroke-width="0.16">Negative control-vibration</text>
<rect x="89.90" y="336.80" width="6.50" height="2.90" fill="#d9d9d9"/>
<text x="100.4" y="339.9" font-family="'Liberation Sans', Arial, sans-serif" font-size="5.05" font-weight="normal" text-anchor="start" fill="#111" stroke="#111" stroke-width="0.16">siRNA-vibration</text>
<text x="172.0" y="295.9" font-family="'Liberation Serif', 'Times New Roman', serif" font-size="12.6" font-weight="bold" text-anchor="start" fill="#000" stroke="#000" stroke-width="0.28">(H)</text>
<line x1="212.75" y1="326.34" x2="212.75" y2="339.42" stroke="#111" stroke-width="0.6"/>
<line x1="211.06" y1="326.34" x2="214.44" y2="326.34" stroke="#111" stroke-width="0.6"/>
<rect x="209.50" y="338.92" width="6.50" height="31.98" fill="#000000"/>
<line x1="222.20" y1="343.42" x2="222.20" y2="346.56" stroke="#5c5c5c" stroke-width="0.6"/>
<line x1="220.54" y1="343.42" x2="223.86" y2="343.42" stroke="#5c5c5c" stroke-width="0.6"/>
<rect x="219.00" y="346.06" width="6.40" height="24.84" fill="#a5a5ab"/>
<line x1="231.75" y1="346.37" x2="231.75" y2="349.66" stroke="#8c8c8c" stroke-width="0.6"/>
<line x1="230.06" y1="346.37" x2="233.44" y2="346.37" stroke="#8c8c8c" stroke-width="0.6"/>
<rect x="228.50" y="349.16" width="6.50" height="21.74" fill="#7f7f7f"/>
<line x1="241.60" y1="345.13" x2="241.60" y2="346.40" stroke="#6c6c6c" stroke-width="0.6"/>
<line x1="239.88" y1="345.13" x2="243.32" y2="345.13" stroke="#6c6c6c" stroke-width="0.6"/>
<rect x="238.30" y="345.90" width="6.60" height="25.00" fill="#d9d9d9"/>
<line x1="206.30" y1="308.45" x2="206.30" y2="371.25" stroke="#111" stroke-width="0.7"/>
<line x1="205.95" y1="370.90" x2="247.50" y2="370.90" stroke="#111" stroke-width="0.7"/>
<line x1="203.70" y1="308.80" x2="206.30" y2="308.80" stroke="#111" stroke-width="0.7"/>
<text x="202.8" y="310.64" font-family="'Liberation Sans', Arial, sans-serif" font-size="5.1" font-weight="bold" text-anchor="end" fill="#111" stroke="#111" stroke-width="0.22">2.0</text>
<line x1="203.70" y1="324.32" x2="206.30" y2="324.32" stroke="#111" stroke-width="0.7"/>
<text x="202.8" y="326.16" font-family="'Liberation Sans', Arial, sans-serif" font-size="5.1" font-weight="bold" text-anchor="end" fill="#111" stroke="#111" stroke-width="0.22">1.5</text>
<line x1="203.70" y1="339.85" x2="206.30" y2="339.85" stroke="#111" stroke-width="0.7"/>
<text x="202.8" y="341.69" font-family="'Liberation Sans', Arial, sans-serif" font-size="5.1" font-weight="bold" text-anchor="end" fill="#111" stroke="#111" stroke-width="0.22">1.0</text>
<line x1="203.70" y1="355.38" x2="206.30" y2="355.38" stroke="#111" stroke-width="0.7"/>
<text x="202.8" y="357.21" font-family="'Liberation Sans', Arial, sans-serif" font-size="5.1" font-weight="bold" text-anchor="end" fill="#111" stroke="#111" stroke-width="0.22">0.5</text>
<line x1="203.70" y1="370.90" x2="206.30" y2="370.90" stroke="#111" stroke-width="0.7"/>
<text x="202.8" y="372.74" font-family="'Liberation Sans', Arial, sans-serif" font-size="5.1" font-weight="bold" text-anchor="end" fill="#111" stroke="#111" stroke-width="0.22">0.0</text>
<line x1="212.75" y1="370.90" x2="212.75" y2="373.40" stroke="#111" stroke-width="0.7"/>
<line x1="222.20" y1="370.90" x2="222.20" y2="373.40" stroke="#111" stroke-width="0.7"/>
<line x1="231.75" y1="370.90" x2="231.75" y2="373.40" stroke="#111" stroke-width="0.7"/>
<line x1="241.60" y1="370.90" x2="241.60" y2="373.40" stroke="#111" stroke-width="0.7"/>
<text x="213.85" y="378.9" font-family="'Liberation Sans', Arial, sans-serif" font-size="4.5" font-weight="bold" text-anchor="end" fill="#111" transform="rotate(-45 213.85 378.9)" stroke="#111" stroke-width="0.22">N-C</text>
<text x="223.3" y="378.9" font-family="'Liberation Sans', Arial, sans-serif" font-size="4.5" font-weight="bold" text-anchor="end" fill="#111" transform="rotate(-45 223.3 378.9)" stroke="#111" stroke-width="0.22">si-C</text>
<text x="232.85" y="378.9" font-family="'Liberation Sans', Arial, sans-serif" font-size="4.5" font-weight="bold" text-anchor="end" fill="#111" transform="rotate(-45 232.85 378.9)" stroke="#111" stroke-width="0.22">NC-V</text>
<text x="242.7" y="378.9" font-family="'Liberation Sans', Arial, sans-serif" font-size="4.5" font-weight="bold" text-anchor="end" fill="#111" transform="rotate(-45 242.7 378.9)" stroke="#111" stroke-width="0.22">si-V</text>
<text x="180.8" y="339.8" font-family="'Liberation Sans', Arial, sans-serif" font-size="5.1" font-weight="bold" text-anchor="middle" fill="#111" transform="rotate(-90 180.8 339.8)" stroke="#111" stroke-width="0.22">Relative expression</text>
<text x="186.7" y="339.8" font-family="'Liberation Sans', Arial, sans-serif" font-size="5.1" font-weight="bold" text-anchor="middle" fill="#111" transform="rotate(-90 186.7 339.8)" stroke="#111" stroke-width="0.22">of lncRNA MEG3</text>
<text x="227.0" y="394.8" font-family="'Liberation Sans', Arial, sans-serif" font-size="5.1" font-weight="bold" text-anchor="middle" fill="#111" stroke="#111" stroke-width="0.22">20Hz 2d</text>
<rect x="262.00" y="311.60" width="6.80" height="2.70" fill="#000000"/>
<text x="272.7" y="314.4" font-family="'Liberation Sans', Arial, sans-serif" font-size="5.03" font-weight="normal" text-anchor="start" fill="#111" stroke="#111" stroke-width="0.16">Negative control</text>
<rect x="262.00" y="320.00" width="6.80" height="2.80" fill="#a5a5ab"/>
<text x="272.7" y="322.9" font-family="'Liberation Sans', Arial, sans-serif" font-size="5.03" font-weight="normal" text-anchor="start" fill="#111" stroke="#111" stroke-width="0.16">siRNA-control</text>
<rect x="262.00" y="328.40" width="6.80" height="2.90" fill="#7f7f7f"/>
<text x="272.7" y="331.4" font-family="'Liberation Sans', Arial, sans-serif" font-size="5.03" font-weight="normal" text-anchor="start" fill="#111" stroke="#111" stroke-width="0.16">Negative control-vibration</text>
<rect x="262.00" y="336.90" width="6.80" height="2.90" fill="#d9d9d9"/>
<text x="272.7" y="340.0" font-family="'Liberation Sans', Arial, sans-serif" font-size="5.03" font-weight="normal" text-anchor="start" fill="#111" stroke="#111" stroke-width="0.16">siRNA-vibration</text>
<text x="350.4" y="296.1" font-family="'Liberation Serif', 'Times New Roman', serif" font-size="12.6" font-weight="bold" text-anchor="start" fill="#000" stroke="#000" stroke-width="0.28">(I)</text>
<line x1="390.35" y1="329.69" x2="390.35" y2="331.00" stroke="#111" stroke-width="0.6"/>
<line x1="388.66" y1="329.69" x2="392.04" y2="329.69" stroke="#111" stroke-width="0.6"/>
<rect x="387.10" y="330.50" width="6.50" height="40.40" fill="#000000"/>
<line x1="399.75" y1="350.30" x2="399.75" y2="354.43" stroke="#5c5c5c" stroke-width="0.6"/>
<line x1="398.06" y1="350.30" x2="401.44" y2="350.30" stroke="#5c5c5c" stroke-width="0.6"/>
<rect x="396.50" y="353.93" width="6.50" height="16.97" fill="#a5a5ab"/>
<line x1="409.35" y1="336.56" x2="409.35" y2="340.29" stroke="#8c8c8c" stroke-width="0.6"/>
<line x1="407.66" y1="336.56" x2="411.04" y2="336.56" stroke="#8c8c8c" stroke-width="0.6"/>
<rect x="406.10" y="339.79" width="6.50" height="31.11" fill="#7f7f7f"/>
<line x1="418.75" y1="359.39" x2="418.75" y2="361.30" stroke="#6c6c6c" stroke-width="0.6"/>
<line x1="417.06" y1="359.39" x2="420.44" y2="359.39" stroke="#6c6c6c" stroke-width="0.6"/>
<rect x="415.50" y="360.80" width="6.50" height="10.10" fill="#d9d9d9"/>
<line x1="384.00" y1="309.95" x2="384.00" y2="371.25" stroke="#111" stroke-width="0.7"/>
<line x1="383.65" y1="370.90" x2="424.70" y2="370.90" stroke="#111" stroke-width="0.7"/>
<line x1="382.00" y1="310.30" x2="384.00" y2="310.30" stroke="#111" stroke-width="0.7"/>
<text x="381.2" y="312.08" font-family="'Liberation Sans', Arial, sans-serif" font-size="4.95" font-weight="bold" text-anchor="end" fill="#111" stroke="#111" stroke-width="0.22">1.5</text>
<line x1="382.00" y1="330.50" x2="384.00" y2="330.50" stroke="#111" stroke-width="0.7"/>
<text x="381.2" y="332.28" font-family="'Liberation Sans', Arial, sans-serif" font-size="4.95" font-weight="bold" text-anchor="end" fill="#111" stroke="#111" stroke-width="0.22">1.0</text>
<line x1="382.00" y1="350.70" x2="384.00" y2="350.70" stroke="#111" stroke-width="0.7"/>
<text x="381.2" y="352.48" font-family="'Liberation Sans', Arial, sans-serif" font-size="4.95" font-weight="bold" text-anchor="end" fill="#111" stroke="#111" stroke-width="0.22">0.5</text>
<line x1="382.00" y1="370.90" x2="384.00" y2="370.90" stroke="#111" stroke-width="0.7"/>
<text x="381.2" y="372.68" font-family="'Liberation Sans', Arial, sans-serif" font-size="4.95" font-weight="bold" text-anchor="end" fill="#111" stroke="#111" stroke-width="0.22">0.0</text>
<line x1="390.35" y1="370.90" x2="390.35" y2="373.40" stroke="#111" stroke-width="0.7"/>
<line x1="399.75" y1="370.90" x2="399.75" y2="373.40" stroke="#111" stroke-width="0.7"/>
<line x1="409.35" y1="370.90" x2="409.35" y2="373.40" stroke="#111" stroke-width="0.7"/>
<line x1="418.75" y1="370.90" x2="418.75" y2="373.40" stroke="#111" stroke-width="0.7"/>
<text x="391.45" y="378.9" font-family="'Liberation Sans', Arial, sans-serif" font-size="4.5" font-weight="bold" text-anchor="end" fill="#111" transform="rotate(-45 391.45 378.9)" stroke="#111" stroke-width="0.22">N-C</text>
<text x="400.85" y="378.9" font-family="'Liberation Sans', Arial, sans-serif" font-size="4.5" font-weight="bold" text-anchor="end" fill="#111" transform="rotate(-45 400.85 378.9)" stroke="#111" stroke-width="0.22">si-C</text>
<text x="410.45" y="378.9" font-family="'Liberation Sans', Arial, sans-serif" font-size="4.5" font-weight="bold" text-anchor="end" fill="#111" transform="rotate(-45 410.45 378.9)" stroke="#111" stroke-width="0.22">NC-V</text>
<text x="419.85" y="378.9" font-family="'Liberation Sans', Arial, sans-serif" font-size="4.5" font-weight="bold" text-anchor="end" fill="#111" transform="rotate(-45 419.85 378.9)" stroke="#111" stroke-width="0.22">si-V</text>
<text x="399.8" y="349.35" font-family="'Liberation Sans', Arial, sans-serif" font-size="4.2" font-weight="bold" text-anchor="middle" fill="#555" stroke="#555" stroke-width="0.22">**</text>
<text x="409.3" y="334.75" font-family="'Liberation Sans', Arial, sans-serif" font-size="4.2" font-weight="bold" text-anchor="middle" fill="#555" stroke="#555" stroke-width="0.22">**</text>
<text x="418.8" y="357.95" font-family="'Liberation Sans', Arial, sans-serif" font-size="4.2" font-weight="bold" text-anchor="middle" fill="#555" stroke="#555" stroke-width="0.22">**</text>
<text x="418.8" y="352.05" font-family="'Liberation Sans', Arial, sans-serif" font-size="3.2" font-weight="bold" text-anchor="middle" fill="#555" stroke="#555" stroke-width="0.22">##</text>
<text x="359.0" y="340.6" font-family="'Liberation Sans', Arial, sans-serif" font-size="5.1" font-weight="bold" text-anchor="middle" fill="#111" transform="rotate(-90 359.0 340.6)" stroke="#111" stroke-width="0.22">Relative expression</text>
<text x="364.9" y="340.6" font-family="'Liberation Sans', Arial, sans-serif" font-size="5.1" font-weight="bold" text-anchor="middle" fill="#111" transform="rotate(-90 364.9 340.6)" stroke="#111" stroke-width="0.22">of lncRNA MEG3</text>
<text x="404.5" y="394.9" font-family="'Liberation Sans', Arial, sans-serif" font-size="5.1" font-weight="bold" text-anchor="middle" fill="#111" stroke="#111" stroke-width="0.22">125 Hz 1d</text>
<rect x="438.50" y="312.70" width="6.60" height="2.80" fill="#000000"/>
<text x="449.1" y="315.8" font-family="'Liberation Sans', Arial, sans-serif" font-size="4.92" font-weight="normal" text-anchor="start" fill="#111" stroke="#111" stroke-width="0.16">Negative control</text>
<rect x="438.50" y="321.20" width="6.60" height="2.80" fill="#a5a5ab"/>
<text x="449.1" y="324.2" font-family="'Liberation Sans', Arial, sans-serif" font-size="4.92" font-weight="normal" text-anchor="start" fill="#111" stroke="#111" stroke-width="0.16">siRNA-control</text>
<rect x="438.50" y="329.60" width="6.60" height="2.80" fill="#7f7f7f"/>
<text x="449.1" y="332.6" font-family="'Liberation Sans', Arial, sans-serif" font-size="4.92" font-weight="normal" text-anchor="start" fill="#111" stroke="#111" stroke-width="0.16">Negative control-vibration</text>
<rect x="438.50" y="337.80" width="6.60" height="2.90" fill="#d9d9d9"/>
<text x="449.1" y="340.9" font-family="'Liberation Sans', Arial, sans-serif" font-size="4.92" font-weight="normal" text-anchor="start" fill="#111" stroke="#111" stroke-width="0.16">siRNA-vibration</text>
<text x="526.0" y="295.9" font-family="'Liberation Serif', 'Times New Roman', serif" font-size="12.6" font-weight="bold" text-anchor="start" fill="#000" stroke="#000" stroke-width="0.28">(J)</text>
<line x1="566.40" y1="325.16" x2="566.40" y2="329.40" stroke="#111" stroke-width="0.6"/>
<line x1="564.68" y1="325.16" x2="568.12" y2="325.16" stroke="#111" stroke-width="0.6"/>
<rect x="563.10" y="328.90" width="6.60" height="41.60" fill="#000000"/>
<line x1="576.10" y1="359.48" x2="576.10" y2="362.68" stroke="#5c5c5c" stroke-width="0.6"/>
<line x1="574.44" y1="359.48" x2="577.76" y2="359.48" stroke="#5c5c5c" stroke-width="0.6"/>
<rect x="572.90" y="362.18" width="6.40" height="8.32" fill="#a5a5ab"/>
<line x1="585.85" y1="312.59" x2="585.85" y2="314.84" stroke="#8c8c8c" stroke-width="0.6"/>
<line x1="584.16" y1="312.59" x2="587.54" y2="312.59" stroke="#8c8c8c" stroke-width="0.6"/>
<rect x="582.60" y="314.34" width="6.50" height="56.16" fill="#7f7f7f"/>
<line x1="595.60" y1="348.24" x2="595.60" y2="351.66" stroke="#6c6c6c" stroke-width="0.6"/>
<line x1="593.94" y1="348.24" x2="597.26" y2="348.24" stroke="#6c6c6c" stroke-width="0.6"/>
<rect x="592.40" y="351.16" width="6.40" height="19.34" fill="#d9d9d9"/>
<line x1="559.80" y1="307.75" x2="559.80" y2="370.85" stroke="#111" stroke-width="0.7"/>
<line x1="559.45" y1="370.50" x2="601.40" y2="370.50" stroke="#111" stroke-width="0.7"/>
<line x1="557.20" y1="308.10" x2="559.80" y2="308.10" stroke="#111" stroke-width="0.7"/>
<text x="556.3" y="309.94" font-family="'Liberation Sans', Arial, sans-serif" font-size="5.1" font-weight="bold" text-anchor="end" fill="#111" stroke="#111" stroke-width="0.22">1.5</text>
<line x1="557.20" y1="328.90" x2="559.80" y2="328.90" stroke="#111" stroke-width="0.7"/>
<text x="556.3" y="330.74" font-family="'Liberation Sans', Arial, sans-serif" font-size="5.1" font-weight="bold" text-anchor="end" fill="#111" stroke="#111" stroke-width="0.22">1.0</text>
<line x1="557.20" y1="349.70" x2="559.80" y2="349.70" stroke="#111" stroke-width="0.7"/>
<text x="556.3" y="351.54" font-family="'Liberation Sans', Arial, sans-serif" font-size="5.1" font-weight="bold" text-anchor="end" fill="#111" stroke="#111" stroke-width="0.22">0.5</text>
<line x1="557.20" y1="370.50" x2="559.80" y2="370.50" stroke="#111" stroke-width="0.7"/>
<text x="556.3" y="372.34" font-family="'Liberation Sans', Arial, sans-serif" font-size="5.1" font-weight="bold" text-anchor="end" fill="#111" stroke="#111" stroke-width="0.22">0.0</text>
<line x1="566.40" y1="370.50" x2="566.40" y2="373.00" stroke="#111" stroke-width="0.7"/>
<line x1="576.10" y1="370.50" x2="576.10" y2="373.00" stroke="#111" stroke-width="0.7"/>
<line x1="585.85" y1="370.50" x2="585.85" y2="373.00" stroke="#111" stroke-width="0.7"/>
<line x1="595.60" y1="370.50" x2="595.60" y2="373.00" stroke="#111" stroke-width="0.7"/>
<text x="567.5" y="378.5" font-family="'Liberation Sans', Arial, sans-serif" font-size="4.5" font-weight="bold" text-anchor="end" fill="#111" transform="rotate(-45 567.5 378.5)" stroke="#111" stroke-width="0.22">N-C</text>
<text x="577.2" y="378.5" font-family="'Liberation Sans', Arial, sans-serif" font-size="4.5" font-weight="bold" text-anchor="end" fill="#111" transform="rotate(-45 577.2 378.5)" stroke="#111" stroke-width="0.22">si-C</text>
<text x="586.95" y="378.5" font-family="'Liberation Sans', Arial, sans-serif" font-size="4.5" font-weight="bold" text-anchor="end" fill="#111" transform="rotate(-45 586.95 378.5)" stroke="#111" stroke-width="0.22">NC-V</text>
<text x="596.7" y="378.5" font-family="'Liberation Sans', Arial, sans-serif" font-size="4.5" font-weight="bold" text-anchor="end" fill="#111" transform="rotate(-45 596.7 378.5)" stroke="#111" stroke-width="0.22">si-V</text>
<text x="576.1" y="358.35" font-family="'Liberation Sans', Arial, sans-serif" font-size="4.2" font-weight="bold" text-anchor="middle" fill="#555" stroke="#555" stroke-width="0.22">**</text>
<text x="585.9" y="311.15" font-family="'Liberation Sans', Arial, sans-serif" font-size="4.2" font-weight="bold" text-anchor="middle" fill="#555" stroke="#555" stroke-width="0.22">**</text>
<text x="595.6" y="347.05" font-family="'Liberation Sans', Arial, sans-serif" font-size="4.2" font-weight="bold" text-anchor="middle" fill="#555" stroke="#555" stroke-width="0.22">**</text>
<text x="595.6" y="341.15" font-family="'Liberation Sans', Arial, sans-serif" font-size="3.2" font-weight="bold" text-anchor="middle" fill="#555" stroke="#555" stroke-width="0.22">##</text>
<text x="534.5" y="339.3" font-family="'Liberation Sans', Arial, sans-serif" font-size="5.1" font-weight="bold" text-anchor="middle" fill="#111" transform="rotate(-90 534.5 339.3)" stroke="#111" stroke-width="0.22">Relative expression</text>
<text x="540.4" y="339.3" font-family="'Liberation Sans', Arial, sans-serif" font-size="5.1" font-weight="bold" text-anchor="middle" fill="#111" transform="rotate(-90 540.4 339.3)" stroke="#111" stroke-width="0.22">of lncRNA MEG3</text>
<text x="581.0" y="394.6" font-family="'Liberation Sans', Arial, sans-serif" font-size="5.1" font-weight="bold" text-anchor="middle" fill="#111" stroke="#111" stroke-width="0.22">125 Hz 2d</text>
<rect x="615.90" y="310.80" width="6.80" height="2.80" fill="#000000"/>
<text x="626.4" y="313.9" font-family="'Liberation Sans', Arial, sans-serif" font-size="5.08" font-weight="normal" text-anchor="start" fill="#111" stroke="#111" stroke-width="0.16">Negative control</text>
<rect x="615.90" y="319.30" width="6.80" height="2.80" fill="#a5a5ab"/>
<text x="626.4" y="322.3" font-family="'Liberation Sans', Arial, sans-serif" font-size="5.08" font-weight="normal" text-anchor="start" fill="#111" stroke="#111" stroke-width="0.16">siRNA-control</text>
<rect x="615.90" y="327.70" width="6.80" height="2.90" fill="#7f7f7f"/>
<text x="626.4" y="330.7" font-family="'Liberation Sans', Arial, sans-serif" font-size="5.08" font-weight="normal" text-anchor="start" fill="#111" stroke="#111" stroke-width="0.16">Negative control-vibration</text>
<rect x="615.90" y="336.20" width="6.80" height="2.80" fill="#d9d9d9"/>
<text x="626.4" y="339.2" font-family="'Liberation Sans', Arial, sans-serif" font-size="5.08" font-weight="normal" text-anchor="start" fill="#111" stroke="#111" stroke-width="0.16">siRNA-vibration</text>
</svg>
</body></html>
